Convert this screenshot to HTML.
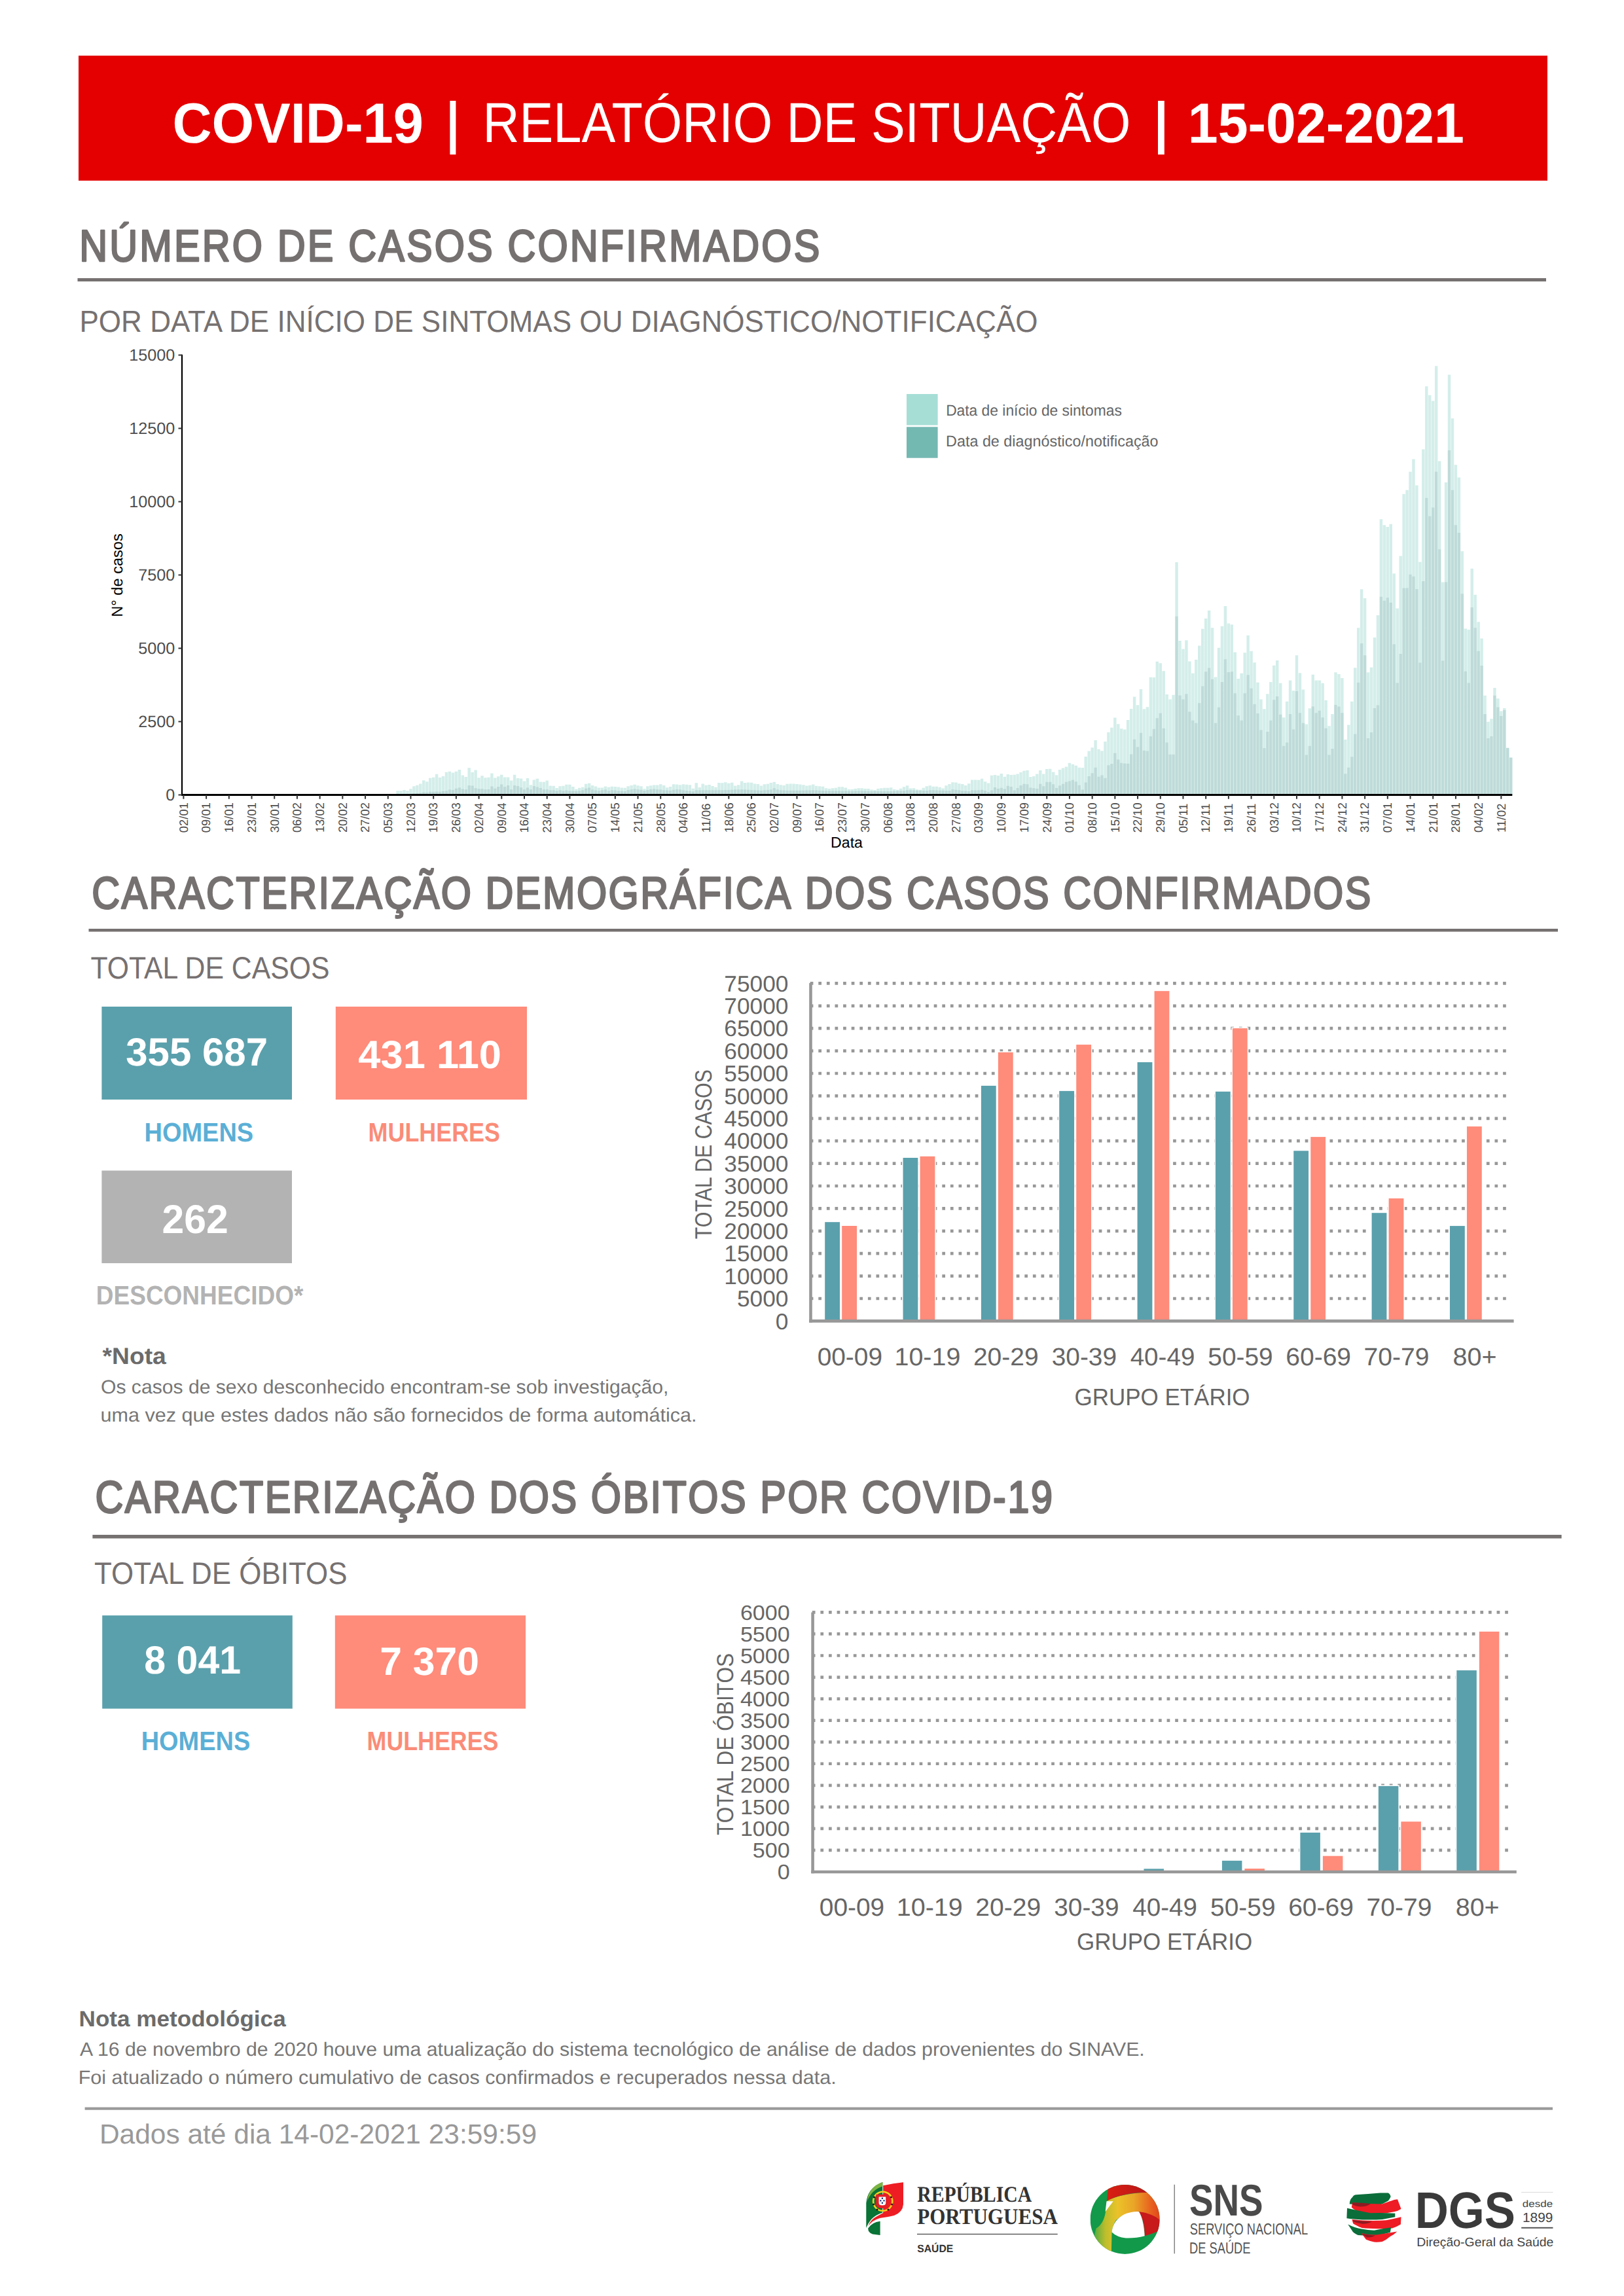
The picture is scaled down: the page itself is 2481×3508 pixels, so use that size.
<!DOCTYPE html>
<html lang="pt"><head><meta charset="utf-8"><title>COVID-19 | Relatório de Situação | 15-02-2021</title>
<style>
html,body{margin:0;padding:0;background:#fff;}
body{width:2481px;height:3508px;overflow:hidden;position:relative;font-family:"Liberation Sans",sans-serif;}
svg{position:absolute;left:0;top:0;display:block;}
</style></head>
<body>
<svg width="2481" height="3508" viewBox="0 0 2481 3508" font-family="'Liberation Sans', sans-serif" text-rendering="geometricPrecision">
<rect x="120.00" y="85.00" width="2244.00" height="191.00" fill="#E40000" />
<text x="263.59" y="217.50" font-size="86.50" font-weight="bold" fill="#fff" textLength="383.50" lengthAdjust="spacingAndGlyphs" font-family='"Liberation Sans", sans-serif' >COVID-19</text>
<rect x="687.40" y="154.00" width="9.00" height="82.10" fill="#fff" />
<text x="737.57" y="217.00" font-size="86.00" font-weight="normal" fill="#fff" textLength="989.82" lengthAdjust="spacingAndGlyphs" font-family='"Liberation Sans", sans-serif' >RELATÓRIO DE SITUAÇÃO</text>
<rect x="1769.00" y="154.00" width="9.80" height="82.10" fill="#fff" />
<text x="1814.80" y="217.50" font-size="86.50" font-weight="bold" fill="#fff" textLength="422.09" lengthAdjust="spacingAndGlyphs" font-family='"Liberation Sans", sans-serif' >15-02-2021</text>
<text transform="translate(121.29,399.00) scale(0.87,1)" x="0" y="0" font-size="68.31" font-weight="normal" fill="#767171" letter-spacing="3.591" font-family='"Liberation Sans", sans-serif' style="font-kerning:none"  stroke="#767171" stroke-width="2.67" stroke-linejoin="round">NÚMERO DE CASOS CONFIRMADOS</text>
<rect x="118.50" y="425.00" width="2243.50" height="5.00" fill="#767171" />
<text x="121.41" y="506.50" font-size="46.51" font-weight="normal" fill="#767171" textLength="1464.19" lengthAdjust="spacingAndGlyphs" font-family='"Liberation Sans", sans-serif' >POR DATA DE INÍCIO DE SINTOMAS OU DIAGNÓSTICO/NOTIFICAÇÃO</text>
<path d="M605.40 1214.50h4.46v-6.22h-4.46zM610.35 1214.50h4.46v-6.22h-4.46zM615.31 1214.50h4.46v-7.38h-4.46zM620.27 1214.50h4.46v-6.31h-4.46zM625.23 1214.50h4.46v-9.32h-4.46zM630.19 1214.50h4.46v-13.18h-4.46zM635.14 1214.50h4.46v-14.69h-4.46zM640.10 1214.50h4.46v-16.89h-4.46zM645.06 1214.50h4.46v-22.33h-4.46zM650.02 1214.50h4.46v-20.37h-4.46zM654.98 1214.50h4.46v-25.74h-4.46zM659.93 1214.50h4.46v-26.85h-4.46zM664.89 1214.50h4.46v-31.76h-4.46zM669.85 1214.50h4.46v-26.51h-4.46zM674.81 1214.50h4.46v-28.39h-4.46zM679.77 1214.50h4.46v-34.70h-4.46zM684.72 1214.50h4.46v-35.74h-4.46zM689.68 1214.50h4.46v-33.97h-4.46zM694.64 1214.50h4.46v-35.63h-4.46zM699.60 1214.50h4.46v-38.53h-4.46zM704.56 1214.50h4.46v-29.96h-4.46zM709.51 1214.50h4.46v-27.57h-4.46zM714.47 1214.50h4.46v-41.35h-4.46zM719.43 1214.50h4.46v-34.59h-4.46zM724.39 1214.50h4.46v-38.10h-4.46zM729.35 1214.50h4.46v-26.29h-4.46zM734.30 1214.50h4.46v-29.31h-4.46zM739.26 1214.50h4.46v-26.16h-4.46zM744.22 1214.50h4.46v-26.70h-4.46zM749.18 1214.50h4.46v-32.98h-4.46zM754.14 1214.50h4.46v-26.05h-4.46zM759.09 1214.50h4.46v-28.30h-4.46zM764.05 1214.50h4.46v-30.77h-4.46zM769.01 1214.50h4.46v-27.02h-4.46zM773.97 1214.50h4.46v-26.91h-4.46zM778.93 1214.50h4.46v-22.06h-4.46zM783.88 1214.50h4.46v-30.78h-4.46zM788.84 1214.50h4.46v-25.45h-4.46zM793.80 1214.50h4.46v-24.93h-4.46zM798.76 1214.50h4.46v-21.05h-4.46zM803.72 1214.50h4.46v-25.56h-4.46zM808.67 1214.50h4.46v-15.28h-4.46zM813.63 1214.50h4.46v-23.03h-4.46zM818.59 1214.50h4.46v-24.76h-4.46zM823.55 1214.50h4.46v-20.00h-4.46zM828.51 1214.50h4.46v-19.64h-4.46zM833.46 1214.50h4.46v-21.89h-4.46zM838.42 1214.50h4.46v-14.11h-4.46zM843.38 1214.50h4.46v-13.83h-4.46zM848.34 1214.50h4.46v-10.39h-4.46zM853.30 1214.50h4.46v-13.16h-4.46zM858.25 1214.50h4.46v-13.79h-4.46zM863.21 1214.50h4.46v-15.63h-4.46zM868.17 1214.50h4.46v-15.78h-4.46zM873.13 1214.50h4.46v-12.59h-4.46zM878.09 1214.50h4.46v-8.70h-4.46zM883.04 1214.50h4.46v-10.79h-4.46zM888.00 1214.50h4.46v-11.78h-4.46zM892.96 1214.50h4.46v-16.69h-4.46zM897.92 1214.50h4.46v-17.73h-4.46zM902.88 1214.50h4.46v-14.46h-4.46zM907.83 1214.50h4.46v-12.92h-4.46zM912.79 1214.50h4.46v-11.10h-4.46zM917.75 1214.50h4.46v-10.94h-4.46zM922.71 1214.50h4.46v-12.94h-4.46zM927.67 1214.50h4.46v-11.77h-4.46zM932.62 1214.50h4.46v-12.63h-4.46zM937.58 1214.50h4.46v-12.56h-4.46zM942.54 1214.50h4.46v-11.99h-4.46zM947.50 1214.50h4.46v-11.00h-4.46zM952.46 1214.50h4.46v-10.64h-4.46zM957.41 1214.50h4.46v-13.29h-4.46zM962.37 1214.50h4.46v-14.45h-4.46zM967.33 1214.50h4.46v-15.72h-4.46zM972.29 1214.50h4.46v-14.20h-4.46zM977.25 1214.50h4.46v-13.36h-4.46zM982.20 1214.50h4.46v-9.18h-4.46zM987.16 1214.50h4.46v-13.32h-4.46zM992.12 1214.50h4.46v-14.32h-4.46zM997.08 1214.50h4.46v-14.98h-4.46zM1002.04 1214.50h4.46v-15.04h-4.46zM1006.99 1214.50h4.46v-16.34h-4.46zM1011.95 1214.50h4.46v-14.52h-4.46zM1016.91 1214.50h4.46v-11.15h-4.46zM1021.87 1214.50h4.46v-12.52h-4.46zM1026.83 1214.50h4.46v-16.27h-4.46zM1031.78 1214.50h4.46v-15.92h-4.46zM1036.74 1214.50h4.46v-15.17h-4.46zM1041.70 1214.50h4.46v-16.15h-4.46zM1046.66 1214.50h4.46v-15.75h-4.46zM1051.62 1214.50h4.46v-15.17h-4.46zM1056.57 1214.50h4.46v-9.63h-4.46zM1061.53 1214.50h4.46v-18.14h-4.46zM1066.49 1214.50h4.46v-11.51h-4.46zM1071.45 1214.50h4.46v-16.90h-4.46zM1076.41 1214.50h4.46v-14.67h-4.46zM1081.36 1214.50h4.46v-15.43h-4.46zM1086.32 1214.50h4.46v-13.40h-4.46zM1091.28 1214.50h4.46v-11.84h-4.46zM1096.24 1214.50h4.46v-18.49h-4.46zM1101.20 1214.50h4.46v-18.20h-4.46zM1106.15 1214.50h4.46v-19.30h-4.46zM1111.11 1214.50h4.46v-17.79h-4.46zM1116.07 1214.50h4.46v-18.85h-4.46zM1121.03 1214.50h4.46v-14.11h-4.46zM1125.99 1214.50h4.46v-15.13h-4.46zM1130.94 1214.50h4.46v-21.07h-4.46zM1135.90 1214.50h4.46v-18.61h-4.46zM1140.86 1214.50h4.46v-19.03h-4.46zM1145.82 1214.50h4.46v-18.71h-4.46zM1150.78 1214.50h4.46v-17.06h-4.46zM1155.73 1214.50h4.46v-16.45h-4.46zM1160.69 1214.50h4.46v-14.07h-4.46zM1165.65 1214.50h4.46v-16.17h-4.46zM1170.61 1214.50h4.46v-16.86h-4.46zM1175.57 1214.50h4.46v-18.45h-4.46zM1180.52 1214.50h4.46v-19.85h-4.46zM1185.48 1214.50h4.46v-16.41h-4.46zM1190.44 1214.50h4.46v-15.33h-4.46zM1195.40 1214.50h4.46v-14.55h-4.46zM1200.36 1214.50h4.46v-16.66h-4.46zM1205.31 1214.50h4.46v-17.06h-4.46zM1210.27 1214.50h4.46v-16.96h-4.46zM1215.23 1214.50h4.46v-16.47h-4.46zM1220.19 1214.50h4.46v-15.97h-4.46zM1225.15 1214.50h4.46v-15.26h-4.46zM1230.10 1214.50h4.46v-14.11h-4.46zM1235.06 1214.50h4.46v-14.67h-4.46zM1240.02 1214.50h4.46v-15.98h-4.46zM1244.98 1214.50h4.46v-13.87h-4.46zM1249.94 1214.50h4.46v-13.24h-4.46zM1254.89 1214.50h4.46v-12.85h-4.46zM1259.85 1214.50h4.46v-10.27h-4.46zM1264.81 1214.50h4.46v-9.45h-4.46zM1269.77 1214.50h4.46v-10.17h-4.46zM1274.73 1214.50h4.46v-10.72h-4.46zM1279.68 1214.50h4.46v-12.14h-4.46zM1284.64 1214.50h4.46v-12.14h-4.46zM1289.60 1214.50h4.46v-11.09h-4.46zM1294.56 1214.50h4.46v-8.54h-4.46zM1299.52 1214.50h4.46v-8.50h-4.46zM1304.47 1214.50h4.46v-9.50h-4.46zM1309.43 1214.50h4.46v-10.33h-4.46zM1314.39 1214.50h4.46v-10.16h-4.46zM1319.35 1214.50h4.46v-9.52h-4.46zM1324.31 1214.50h4.46v-9.48h-4.46zM1329.26 1214.50h4.46v-7.92h-4.46zM1334.22 1214.50h4.46v-7.33h-4.46zM1339.18 1214.50h4.46v-9.61h-4.46zM1344.14 1214.50h4.46v-10.27h-4.46zM1349.10 1214.50h4.46v-10.77h-4.46zM1354.05 1214.50h4.46v-10.81h-4.46zM1359.01 1214.50h4.46v-11.27h-4.46zM1363.97 1214.50h4.46v-8.49h-4.46zM1368.93 1214.50h4.46v-7.87h-4.46zM1373.89 1214.50h4.46v-9.75h-4.46zM1378.84 1214.50h4.46v-12.21h-4.46zM1383.80 1214.50h4.46v-14.20h-4.46zM1388.76 1214.50h4.46v-9.90h-4.46zM1393.72 1214.50h4.46v-10.31h-4.46zM1398.68 1214.50h4.46v-8.35h-4.46zM1403.63 1214.50h4.46v-7.85h-4.46zM1408.59 1214.50h4.46v-10.82h-4.46zM1413.55 1214.50h4.46v-13.28h-4.46zM1418.51 1214.50h4.46v-14.22h-4.46zM1423.47 1214.50h4.46v-12.78h-4.46zM1428.42 1214.50h4.46v-12.74h-4.46zM1433.38 1214.50h4.46v-11.71h-4.46zM1438.34 1214.50h4.46v-10.02h-4.46zM1443.30 1214.50h4.46v-14.36h-4.46zM1448.26 1214.50h4.46v-16.40h-4.46zM1453.21 1214.50h4.46v-19.18h-4.46zM1458.17 1214.50h4.46v-19.04h-4.46zM1463.13 1214.50h4.46v-17.17h-4.46zM1468.09 1214.50h4.46v-16.51h-4.46zM1473.05 1214.50h4.46v-14.52h-4.46zM1478.00 1214.50h4.46v-17.22h-4.46zM1482.96 1214.50h4.46v-23.02h-4.46zM1487.92 1214.50h4.46v-22.91h-4.46zM1492.88 1214.50h4.46v-22.68h-4.46zM1497.84 1214.50h4.46v-24.75h-4.46zM1502.79 1214.50h4.46v-20.37h-4.46zM1507.75 1214.50h4.46v-17.88h-4.46zM1512.71 1214.50h4.46v-29.67h-4.46zM1517.67 1214.50h4.46v-30.41h-4.46zM1522.63 1214.50h4.46v-29.41h-4.46zM1527.58 1214.50h4.46v-32.45h-4.46zM1532.54 1214.50h4.46v-27.64h-4.46zM1537.50 1214.50h4.46v-31.42h-4.46zM1542.46 1214.50h4.46v-30.56h-4.46zM1547.42 1214.50h4.46v-30.70h-4.46zM1552.37 1214.50h4.46v-31.90h-4.46zM1557.33 1214.50h4.46v-34.38h-4.46zM1562.29 1214.50h4.46v-36.86h-4.46zM1567.25 1214.50h4.46v-37.44h-4.46zM1572.21 1214.50h4.46v-27.41h-4.46zM1577.16 1214.50h4.46v-28.56h-4.46zM1582.12 1214.50h4.46v-31.98h-4.46zM1587.08 1214.50h4.46v-37.40h-4.46zM1592.04 1214.50h4.46v-32.05h-4.46zM1597.00 1214.50h4.46v-39.43h-4.46zM1601.95 1214.50h4.46v-39.87h-4.46zM1606.91 1214.50h4.46v-34.91h-4.46zM1611.87 1214.50h4.46v-30.26h-4.46zM1616.83 1214.50h4.46v-38.51h-4.46zM1621.79 1214.50h4.46v-40.96h-4.46zM1626.74 1214.50h4.46v-42.93h-4.46zM1631.70 1214.50h4.46v-48.83h-4.46zM1636.66 1214.50h4.46v-46.63h-4.46zM1641.62 1214.50h4.46v-44.69h-4.46zM1646.58 1214.50h4.46v-41.63h-4.46zM1651.53 1214.50h4.46v-41.57h-4.46zM1656.49 1214.50h4.46v-58.60h-4.46zM1661.45 1214.50h4.46v-67.10h-4.46zM1666.41 1214.50h4.46v-72.29h-4.46zM1671.37 1214.50h4.46v-83.53h-4.46zM1676.32 1214.50h4.46v-69.71h-4.46zM1681.28 1214.50h4.46v-67.24h-4.46zM1686.24 1214.50h4.46v-81.62h-4.46zM1691.20 1214.50h4.46v-95.86h-4.46zM1696.16 1214.50h4.46v-102.86h-4.46zM1701.11 1214.50h4.46v-118.05h-4.46zM1706.07 1214.50h4.46v-108.26h-4.46zM1711.03 1214.50h4.46v-101.16h-4.46zM1715.99 1214.50h4.46v-100.08h-4.46zM1720.95 1214.50h4.46v-114.59h-4.46zM1725.90 1214.50h4.46v-131.55h-4.46zM1730.86 1214.50h4.46v-149.99h-4.46zM1735.82 1214.50h4.46v-137.37h-4.46zM1740.78 1214.50h4.46v-161.58h-4.46zM1745.74 1214.50h4.46v-131.17h-4.46zM1750.69 1214.50h4.46v-134.29h-4.46zM1755.65 1214.50h4.46v-179.71h-4.46zM1760.61 1214.50h4.46v-179.51h-4.46zM1765.57 1214.50h4.46v-203.74h-4.46zM1770.53 1214.50h4.46v-201.16h-4.46zM1775.48 1214.50h4.46v-189.19h-4.46zM1780.44 1214.50h4.46v-153.55h-4.46zM1785.40 1214.50h4.46v-146.10h-4.46zM1790.36 1214.50h4.46v-152.72h-4.46zM1795.32 1214.50h4.46v-355.47h-4.46zM1800.27 1214.50h4.46v-235.47h-4.46zM1805.23 1214.50h4.46v-223.06h-4.46zM1810.19 1214.50h4.46v-236.30h-4.46zM1815.15 1214.50h4.46v-204.03h-4.46zM1820.11 1214.50h4.46v-185.82h-4.46zM1825.06 1214.50h4.46v-206.51h-4.46zM1830.02 1214.50h4.46v-228.03h-4.46zM1834.98 1214.50h4.46v-253.68h-4.46zM1839.94 1214.50h4.46v-269.40h-4.46zM1844.90 1214.50h4.46v-281.82h-4.46zM1849.85 1214.50h4.46v-255.33h-4.46zM1854.81 1214.50h4.46v-180.03h-4.46zM1859.77 1214.50h4.46v-224.72h-4.46zM1864.73 1214.50h4.46v-257.82h-4.46zM1869.69 1214.50h4.46v-288.44h-4.46zM1874.64 1214.50h4.46v-261.95h-4.46zM1879.60 1214.50h4.46v-260.30h-4.46zM1884.56 1214.50h4.46v-218.09h-4.46zM1889.52 1214.50h4.46v-177.55h-4.46zM1894.48 1214.50h4.46v-185.82h-4.46zM1899.43 1214.50h4.46v-217.27h-4.46zM1904.39 1214.50h4.46v-243.75h-4.46zM1909.35 1214.50h4.46v-219.75h-4.46zM1914.31 1214.50h4.46v-202.37h-4.46zM1919.27 1214.50h4.46v-171.75h-4.46zM1924.22 1214.50h4.46v-146.10h-4.46zM1929.18 1214.50h4.46v-131.20h-4.46zM1934.14 1214.50h4.46v-154.37h-4.46zM1939.10 1214.50h4.46v-172.58h-4.46zM1944.06 1214.50h4.46v-197.64h-4.46zM1949.01 1214.50h4.46v-205.48h-4.46zM1953.97 1214.50h4.46v-170.63h-4.46zM1958.93 1214.50h4.46v-118.37h-4.46zM1963.89 1214.50h4.46v-142.76h-4.46zM1968.85 1214.50h4.46v-174.99h-4.46zM1973.80 1214.50h4.46v-159.31h-4.46zM1978.76 1214.50h4.46v-213.32h-4.46zM1983.72 1214.50h4.46v-186.31h-4.46zM1988.68 1214.50h4.46v-161.05h-4.46zM1993.64 1214.50h4.46v-107.91h-4.46zM1998.59 1214.50h4.46v-132.30h-4.46zM2003.55 1214.50h4.46v-183.70h-4.46zM2008.51 1214.50h4.46v-174.99h-4.46zM2013.47 1214.50h4.46v-174.99h-4.46zM2018.43 1214.50h4.46v-170.63h-4.46zM2023.38 1214.50h4.46v-144.50h-4.46zM2028.34 1214.50h4.46v-105.30h-4.46zM2033.30 1214.50h4.46v-123.59h-4.46zM2038.26 1214.50h4.46v-187.18h-4.46zM2043.22 1214.50h4.46v-184.57h-4.46zM2048.17 1214.50h4.46v-178.47h-4.46zM2053.13 1214.50h4.46v-84.40h-4.46zM2058.09 1214.50h4.46v-107.04h-4.46zM2063.05 1214.50h4.46v-142.76h-4.46zM2068.01 1214.50h4.46v-194.15h-4.46zM2072.96 1214.50h4.46v-255.13h-4.46zM2077.92 1214.50h4.46v-314.36h-4.46zM2082.88 1214.50h4.46v-300.42h-4.46zM2087.84 1214.50h4.46v-187.24h-4.46zM2092.80 1214.50h4.46v-194.64h-4.46zM2097.75 1214.50h4.46v-240.55h-4.46zM2102.71 1214.50h4.46v-274.62h-4.46zM2107.67 1214.50h4.46v-421.24h-4.46zM2112.63 1214.50h4.46v-412.36h-4.46zM2117.59 1214.50h4.46v-409.39h-4.46zM2122.54 1214.50h4.46v-413.84h-4.46zM2127.50 1214.50h4.46v-338.30h-4.46zM2132.46 1214.50h4.46v-284.99h-4.46zM2137.42 1214.50h4.46v-364.96h-4.46zM2142.38 1214.50h4.46v-459.75h-4.46zM2147.33 1214.50h4.46v-465.67h-4.46zM2152.29 1214.50h4.46v-493.81h-4.46zM2157.25 1214.50h4.46v-513.07h-4.46zM2162.21 1214.50h4.46v-473.08h-4.46zM2167.17 1214.50h4.46v-356.08h-4.46zM2172.12 1214.50h4.46v-527.88h-4.46zM2177.08 1214.50h4.46v-624.14h-4.46zM2182.04 1214.50h4.46v-610.82h-4.46zM2187.00 1214.50h4.46v-601.93h-4.46zM2191.96 1214.50h4.46v-655.25h-4.46zM2196.91 1214.50h4.46v-510.10h-4.46zM2201.87 1214.50h4.46v-324.97h-4.46zM2206.83 1214.50h4.46v-477.52h-4.46zM2211.79 1214.50h4.46v-641.92h-4.46zM2216.75 1214.50h4.46v-575.27h-4.46zM2221.70 1214.50h4.46v-504.18h-4.46zM2226.66 1214.50h4.46v-484.93h-4.46zM2231.62 1214.50h4.46v-372.37h-4.46zM2236.58 1214.50h4.46v-253.88h-4.46zM2241.54 1214.50h4.46v-252.40h-4.46zM2246.49 1214.50h4.46v-345.71h-4.46zM2251.45 1214.50h4.46v-305.72h-4.46zM2256.41 1214.50h4.46v-264.25h-4.46zM2261.37 1214.50h4.46v-239.07h-4.46zM2266.33 1214.50h4.46v-151.69h-4.46zM2271.28 1214.50h4.46v-111.70h-4.46zM2276.24 1214.50h4.46v-116.15h-4.46zM2281.20 1214.50h4.46v-163.54h-4.46zM2286.16 1214.50h4.46v-147.25h-4.46zM2291.12 1214.50h4.46v-128.00h-4.46zM2296.07 1214.50h4.46v-132.44h-4.46zM2301.03 1214.50h4.46v-71.72h-4.46zM2305.99 1214.50h4.46v-56.91h-4.46z" fill="rgba(159,217,209,0.45)"/>
<path d="M605.40 1214.50h4.46v-1.12h-4.46zM610.35 1214.50h4.46v-1.12h-4.46zM615.31 1214.50h4.46v-1.33h-4.46zM620.27 1214.50h4.46v-1.14h-4.46zM625.23 1214.50h4.46v-1.68h-4.46zM630.19 1214.50h4.46v-2.37h-4.46zM635.14 1214.50h4.46v-2.64h-4.46zM640.10 1214.50h4.46v-3.04h-4.46zM645.06 1214.50h4.46v-4.02h-4.46zM650.02 1214.50h4.46v-3.67h-4.46zM654.98 1214.50h4.46v-4.63h-4.46zM659.93 1214.50h4.46v-4.83h-4.46zM664.89 1214.50h4.46v-5.06h-4.46zM669.85 1214.50h4.46v-4.77h-4.46zM674.81 1214.50h4.46v-5.68h-4.46zM679.77 1214.50h4.46v-6.18h-4.46zM684.72 1214.50h4.46v-8.08h-4.46zM689.68 1214.50h4.46v-7.50h-4.46zM694.64 1214.50h4.46v-9.86h-4.46zM699.60 1214.50h4.46v-10.89h-4.46zM704.56 1214.50h4.46v-8.91h-4.46zM709.51 1214.50h4.46v-8.18h-4.46zM714.47 1214.50h4.46v-14.57h-4.46zM719.43 1214.50h4.46v-13.90h-4.46zM724.39 1214.50h4.46v-10.29h-4.46zM729.35 1214.50h4.46v-9.21h-4.46zM734.30 1214.50h4.46v-9.15h-4.46zM739.26 1214.50h4.46v-8.19h-4.46zM744.22 1214.50h4.46v-8.39h-4.46zM749.18 1214.50h4.46v-12.96h-4.46zM754.14 1214.50h4.46v-9.81h-4.46zM759.09 1214.50h4.46v-12.52h-4.46zM764.05 1214.50h4.46v-15.96h-4.46zM769.01 1214.50h4.46v-12.25h-4.46zM773.97 1214.50h4.46v-14.55h-4.46zM778.93 1214.50h4.46v-8.29h-4.46zM783.88 1214.50h4.46v-14.54h-4.46zM788.84 1214.50h4.46v-13.62h-4.46zM793.80 1214.50h4.46v-11.14h-4.46zM798.76 1214.50h4.46v-8.22h-4.46zM803.72 1214.50h4.46v-10.93h-4.46zM808.67 1214.50h4.46v-8.32h-4.46zM813.63 1214.50h4.46v-13.57h-4.46zM818.59 1214.50h4.46v-12.08h-4.46zM823.55 1214.50h4.46v-10.55h-4.46zM828.51 1214.50h4.46v-8.19h-4.46zM833.46 1214.50h4.46v-8.19h-4.46zM838.42 1214.50h4.46v-7.21h-4.46zM843.38 1214.50h4.46v-7.14h-4.46zM848.34 1214.50h4.46v-6.30h-4.46zM853.30 1214.50h4.46v-7.13h-4.46zM858.25 1214.50h4.46v-6.31h-4.46zM863.21 1214.50h4.46v-7.12h-4.46zM868.17 1214.50h4.46v-6.22h-4.46zM873.13 1214.50h4.46v-6.12h-4.46zM878.09 1214.50h4.46v-5.74h-4.46zM883.04 1214.50h4.46v-6.22h-4.46zM888.00 1214.50h4.46v-7.13h-4.46zM892.96 1214.50h4.46v-9.80h-4.46zM897.92 1214.50h4.46v-10.88h-4.46zM902.88 1214.50h4.46v-8.10h-4.46zM907.83 1214.50h4.46v-7.11h-4.46zM912.79 1214.50h4.46v-6.33h-4.46zM917.75 1214.50h4.46v-7.32h-4.46zM922.71 1214.50h4.46v-7.95h-4.46zM927.67 1214.50h4.46v-6.35h-4.46zM932.62 1214.50h4.46v-7.21h-4.46zM937.58 1214.50h4.46v-7.07h-4.46zM942.54 1214.50h4.46v-6.22h-4.46zM947.50 1214.50h4.46v-6.07h-4.46zM952.46 1214.50h4.46v-5.56h-4.46zM957.41 1214.50h4.46v-7.38h-4.46zM962.37 1214.50h4.46v-8.37h-4.46zM967.33 1214.50h4.46v-9.00h-4.46zM972.29 1214.50h4.46v-8.19h-4.46zM977.25 1214.50h4.46v-7.81h-4.46zM982.20 1214.50h4.46v-6.42h-4.46zM987.16 1214.50h4.46v-7.41h-4.46zM992.12 1214.50h4.46v-8.40h-4.46zM997.08 1214.50h4.46v-8.96h-4.46zM1002.04 1214.50h4.46v-8.19h-4.46zM1006.99 1214.50h4.46v-7.97h-4.46zM1011.95 1214.50h4.46v-7.21h-4.46zM1016.91 1214.50h4.46v-6.97h-4.46zM1021.87 1214.50h4.46v-6.72h-4.46zM1026.83 1214.50h4.46v-7.74h-4.46zM1031.78 1214.50h4.46v-8.19h-4.46zM1036.74 1214.50h4.46v-8.01h-4.46zM1041.70 1214.50h4.46v-7.31h-4.46zM1046.66 1214.50h4.46v-6.61h-4.46zM1051.62 1214.50h4.46v-5.91h-4.46zM1056.57 1214.50h4.46v-5.33h-4.46zM1061.53 1214.50h4.46v-7.21h-4.46zM1066.49 1214.50h4.46v-7.21h-4.46zM1071.45 1214.50h4.46v-7.21h-4.46zM1076.41 1214.50h4.46v-7.21h-4.46zM1081.36 1214.50h4.46v-7.21h-4.46zM1086.32 1214.50h4.46v-7.21h-4.46zM1091.28 1214.50h4.46v-7.21h-4.46zM1096.24 1214.50h4.46v-7.22h-4.46zM1101.20 1214.50h4.46v-7.35h-4.46zM1106.15 1214.50h4.46v-7.47h-4.46zM1111.11 1214.50h4.46v-7.59h-4.46zM1116.07 1214.50h4.46v-7.72h-4.46zM1121.03 1214.50h4.46v-7.89h-4.46zM1125.99 1214.50h4.46v-8.05h-4.46zM1130.94 1214.50h4.46v-8.16h-4.46zM1135.90 1214.50h4.46v-7.91h-4.46zM1140.86 1214.50h4.46v-7.66h-4.46zM1145.82 1214.50h4.46v-7.42h-4.46zM1150.78 1214.50h4.46v-7.17h-4.46zM1155.73 1214.50h4.46v-6.92h-4.46zM1160.69 1214.50h4.46v-6.78h-4.46zM1165.65 1214.50h4.46v-7.15h-4.46zM1170.61 1214.50h4.46v-7.52h-4.46zM1175.57 1214.50h4.46v-7.89h-4.46zM1180.52 1214.50h4.46v-10.14h-4.46zM1185.48 1214.50h4.46v-7.99h-4.46zM1190.44 1214.50h4.46v-7.18h-4.46zM1195.40 1214.50h4.46v-7.02h-4.46zM1200.36 1214.50h4.46v-6.85h-4.46zM1205.31 1214.50h4.46v-6.72h-4.46zM1210.27 1214.50h4.46v-6.72h-4.46zM1215.23 1214.50h4.46v-6.72h-4.46zM1220.19 1214.50h4.46v-6.74h-4.46zM1225.15 1214.50h4.46v-6.87h-4.46zM1230.10 1214.50h4.46v-6.99h-4.46zM1235.06 1214.50h4.46v-7.11h-4.46zM1240.02 1214.50h4.46v-7.15h-4.46zM1244.98 1214.50h4.46v-6.90h-4.46zM1249.94 1214.50h4.46v-6.66h-4.46zM1254.89 1214.50h4.46v-6.41h-4.46zM1259.85 1214.50h4.46v-6.22h-4.46zM1264.81 1214.50h4.46v-6.22h-4.46zM1269.77 1214.50h4.46v-6.22h-4.46zM1274.73 1214.50h4.46v-6.22h-4.46zM1279.68 1214.50h4.46v-6.19h-4.46zM1284.64 1214.50h4.46v-6.06h-4.46zM1289.60 1214.50h4.46v-5.94h-4.46zM1294.56 1214.50h4.46v-5.82h-4.46zM1299.52 1214.50h4.46v-5.77h-4.46zM1304.47 1214.50h4.46v-5.89h-4.46zM1309.43 1214.50h4.46v-6.02h-4.46zM1314.39 1214.50h4.46v-6.14h-4.46zM1319.35 1214.50h4.46v-6.11h-4.46zM1324.31 1214.50h4.46v-5.76h-4.46zM1329.26 1214.50h4.46v-5.42h-4.46zM1334.22 1214.50h4.46v-5.95h-4.46zM1339.18 1214.50h4.46v-5.49h-4.46zM1344.14 1214.50h4.46v-5.39h-4.46zM1349.10 1214.50h4.46v-5.39h-4.46zM1354.05 1214.50h4.46v-5.39h-4.46zM1359.01 1214.50h4.46v-5.57h-4.46zM1363.97 1214.50h4.46v-5.77h-4.46zM1368.93 1214.50h4.46v-5.97h-4.46zM1373.89 1214.50h4.46v-6.17h-4.46zM1378.84 1214.50h4.46v-6.37h-4.46zM1383.80 1214.50h4.46v-7.33h-4.46zM1388.76 1214.50h4.46v-7.20h-4.46zM1393.72 1214.50h4.46v-7.03h-4.46zM1398.68 1214.50h4.46v-6.87h-4.46zM1403.63 1214.50h4.46v-6.70h-4.46zM1408.59 1214.50h4.46v-6.53h-4.46zM1413.55 1214.50h4.46v-6.39h-4.46zM1418.51 1214.50h4.46v-7.35h-4.46zM1423.47 1214.50h4.46v-7.19h-4.46zM1428.42 1214.50h4.46v-7.02h-4.46zM1433.38 1214.50h4.46v-6.86h-4.46zM1438.34 1214.50h4.46v-6.69h-4.46zM1443.30 1214.50h4.46v-6.53h-4.46zM1448.26 1214.50h4.46v-6.49h-4.46zM1453.21 1214.50h4.46v-8.31h-4.46zM1458.17 1214.50h4.46v-7.81h-4.46zM1463.13 1214.50h4.46v-7.28h-4.46zM1468.09 1214.50h4.46v-6.34h-4.46zM1473.05 1214.50h4.46v-5.95h-4.46zM1478.00 1214.50h4.46v-5.57h-4.46zM1482.96 1214.50h4.46v-7.14h-4.46zM1487.92 1214.50h4.46v-6.89h-4.46zM1492.88 1214.50h4.46v-7.24h-4.46zM1497.84 1214.50h4.46v-7.82h-4.46zM1502.79 1214.50h4.46v-6.60h-4.46zM1507.75 1214.50h4.46v-4.62h-4.46zM1512.71 1214.50h4.46v-6.93h-4.46zM1517.67 1214.50h4.46v-11.59h-4.46zM1522.63 1214.50h4.46v-9.52h-4.46zM1527.58 1214.50h4.46v-10.82h-4.46zM1532.54 1214.50h4.46v-9.04h-4.46zM1537.50 1214.50h4.46v-13.75h-4.46zM1542.46 1214.50h4.46v-12.41h-4.46zM1547.42 1214.50h4.46v-6.90h-4.46zM1552.37 1214.50h4.46v-10.51h-4.46zM1557.33 1214.50h4.46v-14.61h-4.46zM1562.29 1214.50h4.46v-16.68h-4.46zM1567.25 1214.50h4.46v-16.29h-4.46zM1572.21 1214.50h4.46v-11.01h-4.46zM1577.16 1214.50h4.46v-10.37h-4.46zM1582.12 1214.50h4.46v-9.39h-4.46zM1587.08 1214.50h4.46v-16.69h-4.46zM1592.04 1214.50h4.46v-13.33h-4.46zM1597.00 1214.50h4.46v-19.72h-4.46zM1601.95 1214.50h4.46v-19.69h-4.46zM1606.91 1214.50h4.46v-16.18h-4.46zM1611.87 1214.50h4.46v-10.45h-4.46zM1616.83 1214.50h4.46v-14.37h-4.46zM1621.79 1214.50h4.46v-16.87h-4.46zM1626.74 1214.50h4.46v-19.71h-4.46zM1631.70 1214.50h4.46v-21.05h-4.46zM1636.66 1214.50h4.46v-22.67h-4.46zM1641.62 1214.50h4.46v-20.32h-4.46zM1646.58 1214.50h4.46v-14.85h-4.46zM1651.53 1214.50h4.46v-8.06h-4.46zM1656.49 1214.50h4.46v-19.02h-4.46zM1661.45 1214.50h4.46v-28.51h-4.46zM1666.41 1214.50h4.46v-33.31h-4.46zM1671.37 1214.50h4.46v-41.65h-4.46zM1676.32 1214.50h4.46v-27.64h-4.46zM1681.28 1214.50h4.46v-29.90h-4.46zM1686.24 1214.50h4.46v-25.78h-4.46zM1691.20 1214.50h4.46v-45.24h-4.46zM1696.16 1214.50h4.46v-47.39h-4.46zM1701.11 1214.50h4.46v-63.78h-4.46zM1706.07 1214.50h4.46v-54.09h-4.46zM1711.03 1214.50h4.46v-48.85h-4.46zM1715.99 1214.50h4.46v-48.12h-4.46zM1720.95 1214.50h4.46v-47.75h-4.46zM1725.90 1214.50h4.46v-61.94h-4.46zM1730.86 1214.50h4.46v-84.75h-4.46zM1735.82 1214.50h4.46v-73.27h-4.46zM1740.78 1214.50h4.46v-94.66h-4.46zM1745.74 1214.50h4.46v-67.65h-4.46zM1750.69 1214.50h4.46v-67.09h-4.46zM1755.65 1214.50h4.46v-89.47h-4.46zM1760.61 1214.50h4.46v-100.64h-4.46zM1765.57 1214.50h4.46v-117.17h-4.46zM1770.53 1214.50h4.46v-124.76h-4.46zM1775.48 1214.50h4.46v-101.85h-4.46zM1780.44 1214.50h4.46v-79.90h-4.46zM1785.40 1214.50h4.46v-61.69h-4.46zM1790.36 1214.50h4.46v-61.69h-4.46zM1795.32 1214.50h4.46v-272.71h-4.46zM1800.27 1214.50h4.46v-151.89h-4.46zM1805.23 1214.50h4.46v-146.10h-4.46zM1810.19 1214.50h4.46v-154.37h-4.46zM1815.15 1214.50h4.46v-127.07h-4.46zM1820.11 1214.50h4.46v-113.82h-4.46zM1825.06 1214.50h4.46v-109.69h-4.46zM1830.02 1214.50h4.46v-140.31h-4.46zM1834.98 1214.50h4.46v-165.96h-4.46zM1839.94 1214.50h4.46v-188.30h-4.46zM1844.90 1214.50h4.46v-194.10h-4.46zM1849.85 1214.50h4.46v-176.72h-4.46zM1854.81 1214.50h4.46v-109.69h-4.46zM1859.77 1214.50h4.46v-133.69h-4.46zM1864.73 1214.50h4.46v-172.58h-4.46zM1869.69 1214.50h4.46v-207.34h-4.46zM1874.64 1214.50h4.46v-187.48h-4.46zM1879.60 1214.50h4.46v-188.30h-4.46zM1884.56 1214.50h4.46v-155.20h-4.46zM1889.52 1214.50h4.46v-121.27h-4.46zM1894.48 1214.50h4.46v-113.82h-4.46zM1899.43 1214.50h4.46v-155.20h-4.46zM1904.39 1214.50h4.46v-183.34h-4.46zM1909.35 1214.50h4.46v-162.65h-4.46zM1914.31 1214.50h4.46v-138.65h-4.46zM1919.27 1214.50h4.46v-124.58h-4.46zM1924.22 1214.50h4.46v-98.93h-4.46zM1929.18 1214.50h4.46v-71.62h-4.46zM1934.14 1214.50h4.46v-96.45h-4.46zM1939.10 1214.50h4.46v-113.82h-4.46zM1944.06 1214.50h4.46v-145.37h-4.46zM1949.01 1214.50h4.46v-150.60h-4.46zM1953.97 1214.50h4.46v-122.72h-4.46zM1958.93 1214.50h4.46v-74.81h-4.46zM1963.89 1214.50h4.46v-80.04h-4.46zM1968.85 1214.50h4.46v-123.59h-4.46zM1973.80 1214.50h4.46v-100.07h-4.46zM1978.76 1214.50h4.46v-158.44h-4.46zM1983.72 1214.50h4.46v-125.34h-4.46zM1988.68 1214.50h4.46v-109.66h-4.46zM1993.64 1214.50h4.46v-60.88h-4.46zM1998.59 1214.50h4.46v-74.81h-4.46zM2003.55 1214.50h4.46v-134.92h-4.46zM2008.51 1214.50h4.46v-125.34h-4.46zM2013.47 1214.50h4.46v-128.82h-4.46zM2018.43 1214.50h4.46v-118.37h-4.46zM2023.38 1214.50h4.46v-101.82h-4.46zM2028.34 1214.50h4.46v-60.88h-4.46zM2033.30 1214.50h4.46v-70.46h-4.46zM2038.26 1214.50h4.46v-137.53h-4.46zM2043.22 1214.50h4.46v-134.92h-4.46zM2048.17 1214.50h4.46v-125.34h-4.46zM2053.13 1214.50h4.46v-32.13h-4.46zM2058.09 1214.50h4.46v-41.71h-4.46zM2063.05 1214.50h4.46v-58.26h-4.46zM2068.01 1214.50h4.46v-93.11h-4.46zM2072.96 1214.50h4.46v-171.50h-4.46zM2077.92 1214.50h4.46v-231.61h-4.46zM2082.88 1214.50h4.46v-213.32h-4.46zM2087.84 1214.50h4.46v-86.53h-4.46zM2092.80 1214.50h4.46v-95.41h-4.46zM2097.75 1214.50h4.46v-132.44h-4.46zM2102.71 1214.50h4.46v-136.88h-4.46zM2107.67 1214.50h4.46v-302.76h-4.46zM2112.63 1214.50h4.46v-296.83h-4.46zM2117.59 1214.50h4.46v-301.28h-4.46zM2122.54 1214.50h4.46v-293.87h-4.46zM2127.50 1214.50h4.46v-230.19h-4.46zM2132.46 1214.50h4.46v-170.95h-4.46zM2137.42 1214.50h4.46v-215.38h-4.46zM2142.38 1214.50h4.46v-316.09h-4.46zM2147.33 1214.50h4.46v-316.09h-4.46zM2152.29 1214.50h4.46v-336.82h-4.46zM2157.25 1214.50h4.46v-333.86h-4.46zM2162.21 1214.50h4.46v-314.61h-4.46zM2167.17 1214.50h4.46v-202.05h-4.46zM2172.12 1214.50h4.46v-326.45h-4.46zM2177.08 1214.50h4.46v-453.82h-4.46zM2182.04 1214.50h4.46v-425.68h-4.46zM2187.00 1214.50h4.46v-439.01h-4.46zM2191.96 1214.50h4.46v-493.81h-4.46zM2196.91 1214.50h4.46v-375.33h-4.46zM2201.87 1214.50h4.46v-205.01h-4.46zM2206.83 1214.50h4.46v-324.97h-4.46zM2211.79 1214.50h4.46v-526.40h-4.46zM2216.75 1214.50h4.46v-465.67h-4.46zM2221.70 1214.50h4.46v-412.36h-4.46zM2226.66 1214.50h4.46v-400.51h-4.46zM2231.62 1214.50h4.46v-307.20h-4.46zM2236.58 1214.50h4.46v-188.72h-4.46zM2241.54 1214.50h4.46v-170.95h-4.46zM2246.49 1214.50h4.46v-286.47h-4.46zM2251.45 1214.50h4.46v-255.36h-4.46zM2256.41 1214.50h4.46v-219.82h-4.46zM2261.37 1214.50h4.46v-197.60h-4.46zM2266.33 1214.50h4.46v-123.55h-4.46zM2271.28 1214.50h4.46v-86.53h-4.46zM2276.24 1214.50h4.46v-89.49h-4.46zM2281.20 1214.50h4.46v-151.69h-4.46zM2286.16 1214.50h4.46v-133.92h-4.46zM2291.12 1214.50h4.46v-120.59h-4.46zM2296.07 1214.50h4.46v-129.48h-4.46zM2301.03 1214.50h4.46v-71.72h-4.46zM2305.99 1214.50h4.46v-56.91h-4.46z" fill="rgba(128,168,171,0.26)"/>
<line x1="278" y1="541.8" x2="278" y2="1215.60" stroke="#000" stroke-width="2.2"/>
<line x1="277" y1="1214.50" x2="2310.3" y2="1214.50" stroke="#000" stroke-width="2.8"/>
<line x1="272.5" y1="1214.50" x2="278" y2="1214.50" stroke="#333" stroke-width="2"/>
<text x="253.37" y="1223.30" font-size="25.20" font-weight="normal" fill="#4D4D4D" >0</text>
<line x1="272.5" y1="1102.50" x2="278" y2="1102.50" stroke="#333" stroke-width="2"/>
<text x="211.32" y="1111.30" font-size="25.20" font-weight="normal" fill="#4D4D4D" >2500</text>
<line x1="272.5" y1="990.50" x2="278" y2="990.50" stroke="#333" stroke-width="2"/>
<text x="211.32" y="999.30" font-size="25.20" font-weight="normal" fill="#4D4D4D" >5000</text>
<line x1="272.5" y1="878.50" x2="278" y2="878.50" stroke="#333" stroke-width="2"/>
<text x="211.32" y="887.30" font-size="25.20" font-weight="normal" fill="#4D4D4D" >7500</text>
<line x1="272.5" y1="766.50" x2="278" y2="766.50" stroke="#333" stroke-width="2"/>
<text x="197.31" y="775.30" font-size="25.20" font-weight="normal" fill="#4D4D4D" >10000</text>
<line x1="272.5" y1="654.50" x2="278" y2="654.50" stroke="#333" stroke-width="2"/>
<text x="197.31" y="663.30" font-size="25.20" font-weight="normal" fill="#4D4D4D" >12500</text>
<line x1="272.5" y1="542.50" x2="278" y2="542.50" stroke="#333" stroke-width="2"/>
<text x="197.31" y="551.30" font-size="25.20" font-weight="normal" fill="#4D4D4D" >15000</text>
<line x1="280.40" y1="1214.50" x2="280.40" y2="1220.70" stroke="#333" stroke-width="2"/>
<text transform="translate(286.69,1227.00) rotate(-90)" x="-45.15" y="0" font-size="18.4" fill="#4D4D4D">02/01</text>
<line x1="315.11" y1="1214.50" x2="315.11" y2="1220.70" stroke="#333" stroke-width="2"/>
<text transform="translate(321.39,1227.00) rotate(-90)" x="-45.15" y="0" font-size="18.4" fill="#4D4D4D">09/01</text>
<line x1="349.81" y1="1214.50" x2="349.81" y2="1220.70" stroke="#333" stroke-width="2"/>
<text transform="translate(356.10,1227.00) rotate(-90)" x="-45.15" y="0" font-size="18.4" fill="#4D4D4D">16/01</text>
<line x1="384.52" y1="1214.50" x2="384.52" y2="1220.70" stroke="#333" stroke-width="2"/>
<text transform="translate(390.81,1227.00) rotate(-90)" x="-45.15" y="0" font-size="18.4" fill="#4D4D4D">23/01</text>
<line x1="419.22" y1="1214.50" x2="419.22" y2="1220.70" stroke="#333" stroke-width="2"/>
<text transform="translate(425.51,1227.00) rotate(-90)" x="-45.15" y="0" font-size="18.4" fill="#4D4D4D">30/01</text>
<line x1="453.93" y1="1214.50" x2="453.93" y2="1220.70" stroke="#333" stroke-width="2"/>
<text transform="translate(460.22,1227.00) rotate(-90)" x="-45.12" y="0" font-size="18.4" fill="#4D4D4D">06/02</text>
<line x1="488.64" y1="1214.50" x2="488.64" y2="1220.70" stroke="#333" stroke-width="2"/>
<text transform="translate(494.92,1227.00) rotate(-90)" x="-45.12" y="0" font-size="18.4" fill="#4D4D4D">13/02</text>
<line x1="523.34" y1="1214.50" x2="523.34" y2="1220.70" stroke="#333" stroke-width="2"/>
<text transform="translate(529.63,1227.00) rotate(-90)" x="-45.12" y="0" font-size="18.4" fill="#4D4D4D">20/02</text>
<line x1="558.05" y1="1214.50" x2="558.05" y2="1220.70" stroke="#333" stroke-width="2"/>
<text transform="translate(564.34,1227.00) rotate(-90)" x="-45.12" y="0" font-size="18.4" fill="#4D4D4D">27/02</text>
<line x1="592.75" y1="1214.50" x2="592.75" y2="1220.70" stroke="#333" stroke-width="2"/>
<text transform="translate(599.04,1227.00) rotate(-90)" x="-45.24" y="0" font-size="18.4" fill="#4D4D4D">05/03</text>
<line x1="627.46" y1="1214.50" x2="627.46" y2="1220.70" stroke="#333" stroke-width="2"/>
<text transform="translate(633.75,1227.00) rotate(-90)" x="-45.24" y="0" font-size="18.4" fill="#4D4D4D">12/03</text>
<line x1="662.17" y1="1214.50" x2="662.17" y2="1220.70" stroke="#333" stroke-width="2"/>
<text transform="translate(668.45,1227.00) rotate(-90)" x="-45.24" y="0" font-size="18.4" fill="#4D4D4D">19/03</text>
<line x1="696.87" y1="1214.50" x2="696.87" y2="1220.70" stroke="#333" stroke-width="2"/>
<text transform="translate(703.16,1227.00) rotate(-90)" x="-45.24" y="0" font-size="18.4" fill="#4D4D4D">26/03</text>
<line x1="731.58" y1="1214.50" x2="731.58" y2="1220.70" stroke="#333" stroke-width="2"/>
<text transform="translate(737.87,1227.00) rotate(-90)" x="-45.51" y="0" font-size="18.4" fill="#4D4D4D">02/04</text>
<line x1="766.28" y1="1214.50" x2="766.28" y2="1220.70" stroke="#333" stroke-width="2"/>
<text transform="translate(772.57,1227.00) rotate(-90)" x="-45.51" y="0" font-size="18.4" fill="#4D4D4D">09/04</text>
<line x1="800.99" y1="1214.50" x2="800.99" y2="1220.70" stroke="#333" stroke-width="2"/>
<text transform="translate(807.28,1227.00) rotate(-90)" x="-45.51" y="0" font-size="18.4" fill="#4D4D4D">16/04</text>
<line x1="835.70" y1="1214.50" x2="835.70" y2="1220.70" stroke="#333" stroke-width="2"/>
<text transform="translate(841.98,1227.00) rotate(-90)" x="-45.51" y="0" font-size="18.4" fill="#4D4D4D">23/04</text>
<line x1="870.40" y1="1214.50" x2="870.40" y2="1220.70" stroke="#333" stroke-width="2"/>
<text transform="translate(876.69,1227.00) rotate(-90)" x="-45.51" y="0" font-size="18.4" fill="#4D4D4D">30/04</text>
<line x1="905.11" y1="1214.50" x2="905.11" y2="1220.70" stroke="#333" stroke-width="2"/>
<text transform="translate(911.40,1227.00) rotate(-90)" x="-45.27" y="0" font-size="18.4" fill="#4D4D4D">07/05</text>
<line x1="939.81" y1="1214.50" x2="939.81" y2="1220.70" stroke="#333" stroke-width="2"/>
<text transform="translate(946.10,1227.00) rotate(-90)" x="-45.27" y="0" font-size="18.4" fill="#4D4D4D">14/05</text>
<line x1="974.52" y1="1214.50" x2="974.52" y2="1220.70" stroke="#333" stroke-width="2"/>
<text transform="translate(980.81,1227.00) rotate(-90)" x="-45.27" y="0" font-size="18.4" fill="#4D4D4D">21/05</text>
<line x1="1009.23" y1="1214.50" x2="1009.23" y2="1220.70" stroke="#333" stroke-width="2"/>
<text transform="translate(1015.51,1227.00) rotate(-90)" x="-45.27" y="0" font-size="18.4" fill="#4D4D4D">28/05</text>
<line x1="1043.93" y1="1214.50" x2="1043.93" y2="1220.70" stroke="#333" stroke-width="2"/>
<text transform="translate(1050.22,1227.00) rotate(-90)" x="-45.24" y="0" font-size="18.4" fill="#4D4D4D">04/06</text>
<line x1="1078.64" y1="1214.50" x2="1078.64" y2="1220.70" stroke="#333" stroke-width="2"/>
<text transform="translate(1084.93,1227.00) rotate(-90)" x="-45.24" y="0" font-size="18.4" fill="#4D4D4D">11/06</text>
<line x1="1113.34" y1="1214.50" x2="1113.34" y2="1220.70" stroke="#333" stroke-width="2"/>
<text transform="translate(1119.63,1227.00) rotate(-90)" x="-45.24" y="0" font-size="18.4" fill="#4D4D4D">18/06</text>
<line x1="1148.05" y1="1214.50" x2="1148.05" y2="1220.70" stroke="#333" stroke-width="2"/>
<text transform="translate(1154.34,1227.00) rotate(-90)" x="-45.24" y="0" font-size="18.4" fill="#4D4D4D">25/06</text>
<line x1="1182.76" y1="1214.50" x2="1182.76" y2="1220.70" stroke="#333" stroke-width="2"/>
<text transform="translate(1189.04,1227.00) rotate(-90)" x="-45.12" y="0" font-size="18.4" fill="#4D4D4D">02/07</text>
<line x1="1217.46" y1="1214.50" x2="1217.46" y2="1220.70" stroke="#333" stroke-width="2"/>
<text transform="translate(1223.75,1227.00) rotate(-90)" x="-45.12" y="0" font-size="18.4" fill="#4D4D4D">09/07</text>
<line x1="1252.17" y1="1214.50" x2="1252.17" y2="1220.70" stroke="#333" stroke-width="2"/>
<text transform="translate(1258.46,1227.00) rotate(-90)" x="-45.12" y="0" font-size="18.4" fill="#4D4D4D">16/07</text>
<line x1="1286.87" y1="1214.50" x2="1286.87" y2="1220.70" stroke="#333" stroke-width="2"/>
<text transform="translate(1293.16,1227.00) rotate(-90)" x="-45.12" y="0" font-size="18.4" fill="#4D4D4D">23/07</text>
<line x1="1321.58" y1="1214.50" x2="1321.58" y2="1220.70" stroke="#333" stroke-width="2"/>
<text transform="translate(1327.87,1227.00) rotate(-90)" x="-45.12" y="0" font-size="18.4" fill="#4D4D4D">30/07</text>
<line x1="1356.29" y1="1214.50" x2="1356.29" y2="1220.70" stroke="#333" stroke-width="2"/>
<text transform="translate(1362.57,1227.00) rotate(-90)" x="-45.25" y="0" font-size="18.4" fill="#4D4D4D">06/08</text>
<line x1="1390.99" y1="1214.50" x2="1390.99" y2="1220.70" stroke="#333" stroke-width="2"/>
<text transform="translate(1397.28,1227.00) rotate(-90)" x="-45.25" y="0" font-size="18.4" fill="#4D4D4D">13/08</text>
<line x1="1425.70" y1="1214.50" x2="1425.70" y2="1220.70" stroke="#333" stroke-width="2"/>
<text transform="translate(1431.99,1227.00) rotate(-90)" x="-45.25" y="0" font-size="18.4" fill="#4D4D4D">20/08</text>
<line x1="1460.40" y1="1214.50" x2="1460.40" y2="1220.70" stroke="#333" stroke-width="2"/>
<text transform="translate(1466.69,1227.00) rotate(-90)" x="-45.25" y="0" font-size="18.4" fill="#4D4D4D">27/08</text>
<line x1="1495.11" y1="1214.50" x2="1495.11" y2="1220.70" stroke="#333" stroke-width="2"/>
<text transform="translate(1501.40,1227.00) rotate(-90)" x="-45.17" y="0" font-size="18.4" fill="#4D4D4D">03/09</text>
<line x1="1529.82" y1="1214.50" x2="1529.82" y2="1220.70" stroke="#333" stroke-width="2"/>
<text transform="translate(1536.10,1227.00) rotate(-90)" x="-45.17" y="0" font-size="18.4" fill="#4D4D4D">10/09</text>
<line x1="1564.52" y1="1214.50" x2="1564.52" y2="1220.70" stroke="#333" stroke-width="2"/>
<text transform="translate(1570.81,1227.00) rotate(-90)" x="-45.17" y="0" font-size="18.4" fill="#4D4D4D">17/09</text>
<line x1="1599.23" y1="1214.50" x2="1599.23" y2="1220.70" stroke="#333" stroke-width="2"/>
<text transform="translate(1605.52,1227.00) rotate(-90)" x="-45.17" y="0" font-size="18.4" fill="#4D4D4D">24/09</text>
<line x1="1633.93" y1="1214.50" x2="1633.93" y2="1220.70" stroke="#333" stroke-width="2"/>
<text transform="translate(1640.22,1227.00) rotate(-90)" x="-45.33" y="0" font-size="18.4" fill="#4D4D4D">01/10</text>
<line x1="1668.64" y1="1214.50" x2="1668.64" y2="1220.70" stroke="#333" stroke-width="2"/>
<text transform="translate(1674.93,1227.00) rotate(-90)" x="-45.33" y="0" font-size="18.4" fill="#4D4D4D">08/10</text>
<line x1="1703.35" y1="1214.50" x2="1703.35" y2="1220.70" stroke="#333" stroke-width="2"/>
<text transform="translate(1709.63,1227.00) rotate(-90)" x="-45.33" y="0" font-size="18.4" fill="#4D4D4D">15/10</text>
<line x1="1738.05" y1="1214.50" x2="1738.05" y2="1220.70" stroke="#333" stroke-width="2"/>
<text transform="translate(1744.34,1227.00) rotate(-90)" x="-45.33" y="0" font-size="18.4" fill="#4D4D4D">22/10</text>
<line x1="1772.76" y1="1214.50" x2="1772.76" y2="1220.70" stroke="#333" stroke-width="2"/>
<text transform="translate(1779.05,1227.00) rotate(-90)" x="-45.33" y="0" font-size="18.4" fill="#4D4D4D">29/10</text>
<line x1="1807.46" y1="1214.50" x2="1807.46" y2="1220.70" stroke="#333" stroke-width="2"/>
<text transform="translate(1813.75,1227.00) rotate(-90)" x="-45.15" y="0" font-size="18.4" fill="#4D4D4D">05/11</text>
<line x1="1842.17" y1="1214.50" x2="1842.17" y2="1220.70" stroke="#333" stroke-width="2"/>
<text transform="translate(1848.46,1227.00) rotate(-90)" x="-45.15" y="0" font-size="18.4" fill="#4D4D4D">12/11</text>
<line x1="1876.88" y1="1214.50" x2="1876.88" y2="1220.70" stroke="#333" stroke-width="2"/>
<text transform="translate(1883.16,1227.00) rotate(-90)" x="-45.15" y="0" font-size="18.4" fill="#4D4D4D">19/11</text>
<line x1="1911.58" y1="1214.50" x2="1911.58" y2="1220.70" stroke="#333" stroke-width="2"/>
<text transform="translate(1917.87,1227.00) rotate(-90)" x="-45.15" y="0" font-size="18.4" fill="#4D4D4D">26/11</text>
<line x1="1946.29" y1="1214.50" x2="1946.29" y2="1220.70" stroke="#333" stroke-width="2"/>
<text transform="translate(1952.58,1227.00) rotate(-90)" x="-45.12" y="0" font-size="18.4" fill="#4D4D4D">03/12</text>
<line x1="1980.99" y1="1214.50" x2="1980.99" y2="1220.70" stroke="#333" stroke-width="2"/>
<text transform="translate(1987.28,1227.00) rotate(-90)" x="-45.12" y="0" font-size="18.4" fill="#4D4D4D">10/12</text>
<line x1="2015.70" y1="1214.50" x2="2015.70" y2="1220.70" stroke="#333" stroke-width="2"/>
<text transform="translate(2021.99,1227.00) rotate(-90)" x="-45.12" y="0" font-size="18.4" fill="#4D4D4D">17/12</text>
<line x1="2050.41" y1="1214.50" x2="2050.41" y2="1220.70" stroke="#333" stroke-width="2"/>
<text transform="translate(2056.69,1227.00) rotate(-90)" x="-45.12" y="0" font-size="18.4" fill="#4D4D4D">24/12</text>
<line x1="2085.11" y1="1214.50" x2="2085.11" y2="1220.70" stroke="#333" stroke-width="2"/>
<text transform="translate(2091.40,1227.00) rotate(-90)" x="-45.12" y="0" font-size="18.4" fill="#4D4D4D">31/12</text>
<line x1="2119.82" y1="1214.50" x2="2119.82" y2="1220.70" stroke="#333" stroke-width="2"/>
<text transform="translate(2126.11,1227.00) rotate(-90)" x="-45.15" y="0" font-size="18.4" fill="#4D4D4D">07/01</text>
<line x1="2154.52" y1="1214.50" x2="2154.52" y2="1220.70" stroke="#333" stroke-width="2"/>
<text transform="translate(2160.81,1227.00) rotate(-90)" x="-45.15" y="0" font-size="18.4" fill="#4D4D4D">14/01</text>
<line x1="2189.23" y1="1214.50" x2="2189.23" y2="1220.70" stroke="#333" stroke-width="2"/>
<text transform="translate(2195.52,1227.00) rotate(-90)" x="-45.15" y="0" font-size="18.4" fill="#4D4D4D">21/01</text>
<line x1="2223.94" y1="1214.50" x2="2223.94" y2="1220.70" stroke="#333" stroke-width="2"/>
<text transform="translate(2230.22,1227.00) rotate(-90)" x="-45.15" y="0" font-size="18.4" fill="#4D4D4D">28/01</text>
<line x1="2258.64" y1="1214.50" x2="2258.64" y2="1220.70" stroke="#333" stroke-width="2"/>
<text transform="translate(2264.93,1227.00) rotate(-90)" x="-45.12" y="0" font-size="18.4" fill="#4D4D4D">04/02</text>
<line x1="2293.35" y1="1214.50" x2="2293.35" y2="1220.70" stroke="#333" stroke-width="2"/>
<text transform="translate(2299.64,1227.00) rotate(-90)" x="-45.12" y="0" font-size="18.4" fill="#4D4D4D">11/02</text>
<text x="1269.11" y="1295.10" font-size="23.10" font-weight="normal" fill="#000" >Data</text>
<text transform="translate(187.0,878.4) rotate(-90)" x="-64.29" y="0" font-size="23.6" fill="#000">N° de casos</text>
<rect x="1385.00" y="602.00" width="47.60" height="47.60" fill="#A6DED6" />
<rect x="1385.00" y="652.30" width="47.60" height="47.40" fill="#74B8B2" />
<text x="1445.13" y="635.00" font-size="23.50" font-weight="normal" fill="#666" textLength="268.69" lengthAdjust="spacingAndGlyphs" font-family='"Liberation Sans", sans-serif' >Data de início de sintomas</text>
<text x="1445.08" y="681.60" font-size="23.50" font-weight="normal" fill="#666" textLength="324.50" lengthAdjust="spacingAndGlyphs" font-family='"Liberation Sans", sans-serif' >Data de diagnóstico/notificação</text>
<text transform="translate(140.16,1388.00) scale(0.86,1)" x="0" y="0" font-size="69.04" font-weight="normal" fill="#767171" letter-spacing="2.892" font-family='"Liberation Sans", sans-serif' style="font-kerning:none"  stroke="#767171" stroke-width="2.73" stroke-linejoin="round">CARACTERIZAÇÃO DEMOGRÁFICA DOS CASOS CONFIRMADOS</text>
<rect x="135.50" y="1419.00" width="2244.50" height="4.50" fill="#767171" />
<text x="138.45" y="1495.30" font-size="47.24" font-weight="normal" fill="#767171" textLength="364.98" lengthAdjust="spacingAndGlyphs" font-family='"Liberation Sans", sans-serif' >TOTAL DE CASOS</text>
<rect x="155.40" y="1538.00" width="290.60" height="142.00" fill="#5AA0AC" />
<rect x="512.80" y="1538.00" width="292.20" height="142.00" fill="#FF8B7A" />
<text x="192.22" y="1627.80" font-size="60.17" font-weight="bold" fill="#fff" textLength="216.81" lengthAdjust="spacingAndGlyphs" font-family='"Liberation Sans", sans-serif' >355 687</text>
<text x="547.38" y="1631.80" font-size="60.17" font-weight="bold" fill="#fff" textLength="218.60" lengthAdjust="spacingAndGlyphs" font-family='"Liberation Sans", sans-serif' >431 110</text>
<text x="220.46" y="1743.60" font-size="40.70" font-weight="bold" fill="#5BAFD6" textLength="166.72" lengthAdjust="spacingAndGlyphs" font-family='"Liberation Sans", sans-serif' >HOMENS</text>
<text x="562.60" y="1743.60" font-size="40.70" font-weight="bold" fill="#FA8C78" textLength="201.40" lengthAdjust="spacingAndGlyphs" font-family='"Liberation Sans", sans-serif' >MULHERES</text>
<rect x="155.40" y="1788.50" width="290.60" height="141.50" fill="#B3B3B3" />
<text x="247.50" y="1884.00" font-size="61.60" font-weight="bold" fill="#fff" textLength="101.23" lengthAdjust="spacingAndGlyphs" font-family='"Liberation Sans", sans-serif' >262</text>
<text x="146.83" y="1993.00" font-size="40.70" font-weight="bold" fill="#B3B3B3" textLength="316.51" lengthAdjust="spacingAndGlyphs" font-family='"Liberation Sans", sans-serif' >DESCONHECIDO*</text>
<text x="156.59" y="2084.00" font-size="35.61" font-weight="bold" fill="#6B6B6B" textLength="97.17" lengthAdjust="spacingAndGlyphs" font-family='"Liberation Sans", sans-serif' >*Nota</text>
<text x="153.97" y="2129.00" font-size="29.51" font-weight="normal" fill="#767676" textLength="867.43" lengthAdjust="spacingAndGlyphs" font-family='"Liberation Sans", sans-serif' >Os casos de sexo desconhecido encontram-se sob investigação,</text>
<text x="153.41" y="2172.00" font-size="29.51" font-weight="normal" fill="#767676" textLength="911.18" lengthAdjust="spacingAndGlyphs" font-family='"Liberation Sans", sans-serif' >uma vez que estes dados não são fornecidos de forma automática.</text>
<line x1="1237.70" y1="1984.00" x2="2306.60" y2="1984.00" stroke="#989898" stroke-width="4.7" stroke-dasharray="4.7 7.9"/>
<line x1="1237.70" y1="1949.60" x2="2306.60" y2="1949.60" stroke="#989898" stroke-width="4.7" stroke-dasharray="4.7 7.9"/>
<line x1="1237.70" y1="1915.20" x2="2306.60" y2="1915.20" stroke="#989898" stroke-width="4.7" stroke-dasharray="4.7 7.9"/>
<line x1="1237.70" y1="1880.80" x2="2306.60" y2="1880.80" stroke="#989898" stroke-width="4.7" stroke-dasharray="4.7 7.9"/>
<line x1="1237.70" y1="1846.40" x2="2306.60" y2="1846.40" stroke="#989898" stroke-width="4.7" stroke-dasharray="4.7 7.9"/>
<line x1="1237.70" y1="1812.00" x2="2306.60" y2="1812.00" stroke="#989898" stroke-width="4.7" stroke-dasharray="4.7 7.9"/>
<line x1="1237.70" y1="1777.60" x2="2306.60" y2="1777.60" stroke="#989898" stroke-width="4.7" stroke-dasharray="4.7 7.9"/>
<line x1="1237.70" y1="1743.20" x2="2306.60" y2="1743.20" stroke="#989898" stroke-width="4.7" stroke-dasharray="4.7 7.9"/>
<line x1="1237.70" y1="1708.80" x2="2306.60" y2="1708.80" stroke="#989898" stroke-width="4.7" stroke-dasharray="4.7 7.9"/>
<line x1="1237.70" y1="1674.40" x2="2306.60" y2="1674.40" stroke="#989898" stroke-width="4.7" stroke-dasharray="4.7 7.9"/>
<line x1="1237.70" y1="1640.00" x2="2306.60" y2="1640.00" stroke="#989898" stroke-width="4.7" stroke-dasharray="4.7 7.9"/>
<line x1="1237.70" y1="1605.60" x2="2306.60" y2="1605.60" stroke="#989898" stroke-width="4.7" stroke-dasharray="4.7 7.9"/>
<line x1="1237.70" y1="1571.20" x2="2306.60" y2="1571.20" stroke="#989898" stroke-width="4.7" stroke-dasharray="4.7 7.9"/>
<line x1="1237.70" y1="1536.80" x2="2306.60" y2="1536.80" stroke="#989898" stroke-width="4.7" stroke-dasharray="4.7 7.9"/>
<line x1="1237.70" y1="1502.40" x2="2306.60" y2="1502.40" stroke="#989898" stroke-width="4.7" stroke-dasharray="4.7 7.9"/>
<rect x="1258.70" y="1865.70" width="25.80" height="152.70" fill="#fff"/>
<rect x="1260.20" y="1867.20" width="22.80" height="151.20" fill="#5AA0AC"/>
<rect x="1284.70" y="1871.50" width="25.80" height="146.90" fill="#fff"/>
<rect x="1286.20" y="1873.00" width="22.80" height="145.40" fill="#FF8B7A"/>
<rect x="1378.04" y="1767.50" width="25.80" height="250.90" fill="#fff"/>
<rect x="1379.54" y="1769.00" width="22.80" height="249.40" fill="#5AA0AC"/>
<rect x="1404.04" y="1765.30" width="25.80" height="253.10" fill="#fff"/>
<rect x="1405.54" y="1766.80" width="22.80" height="251.60" fill="#FF8B7A"/>
<rect x="1497.39" y="1657.40" width="25.80" height="361.00" fill="#fff"/>
<rect x="1498.89" y="1658.90" width="22.80" height="359.50" fill="#5AA0AC"/>
<rect x="1523.39" y="1606.30" width="25.80" height="412.10" fill="#fff"/>
<rect x="1524.89" y="1607.80" width="22.80" height="410.60" fill="#FF8B7A"/>
<rect x="1616.73" y="1665.40" width="25.80" height="353.00" fill="#fff"/>
<rect x="1618.23" y="1666.90" width="22.80" height="351.50" fill="#5AA0AC"/>
<rect x="1642.73" y="1594.60" width="25.80" height="423.80" fill="#fff"/>
<rect x="1644.23" y="1596.10" width="22.80" height="422.30" fill="#FF8B7A"/>
<rect x="1736.08" y="1621.40" width="25.80" height="397.00" fill="#fff"/>
<rect x="1737.58" y="1622.90" width="22.80" height="395.50" fill="#5AA0AC"/>
<rect x="1762.08" y="1512.70" width="25.80" height="505.70" fill="#fff"/>
<rect x="1763.58" y="1514.20" width="22.80" height="504.20" fill="#FF8B7A"/>
<rect x="1855.42" y="1666.30" width="25.80" height="352.10" fill="#fff"/>
<rect x="1856.92" y="1667.80" width="22.80" height="350.60" fill="#5AA0AC"/>
<rect x="1881.42" y="1569.60" width="25.80" height="448.80" fill="#fff"/>
<rect x="1882.92" y="1571.10" width="22.80" height="447.30" fill="#FF8B7A"/>
<rect x="1974.77" y="1756.80" width="25.80" height="261.60" fill="#fff"/>
<rect x="1976.27" y="1758.30" width="22.80" height="260.10" fill="#5AA0AC"/>
<rect x="2000.77" y="1735.60" width="25.80" height="282.80" fill="#fff"/>
<rect x="2002.27" y="1737.10" width="22.80" height="281.30" fill="#FF8B7A"/>
<rect x="2094.11" y="1851.70" width="25.80" height="166.70" fill="#fff"/>
<rect x="2095.61" y="1853.20" width="22.80" height="165.20" fill="#5AA0AC"/>
<rect x="2120.11" y="1829.50" width="25.80" height="188.90" fill="#fff"/>
<rect x="2121.61" y="1831.00" width="22.80" height="187.40" fill="#FF8B7A"/>
<rect x="2213.46" y="1871.60" width="25.80" height="146.80" fill="#fff"/>
<rect x="2214.96" y="1873.10" width="22.80" height="145.30" fill="#5AA0AC"/>
<rect x="2239.46" y="1719.60" width="25.80" height="298.80" fill="#fff"/>
<rect x="2240.96" y="1721.10" width="22.80" height="297.30" fill="#FF8B7A"/>
<line x1="1238.50" y1="1502.00" x2="1238.50" y2="2020.70" stroke="#989898" stroke-width="4.6"/>
<line x1="1236.20" y1="2018.40" x2="2312.60" y2="2018.40" stroke="#989898" stroke-width="4.6"/>
<text x="1184.77" y="2030.50" font-size="34.40" font-weight="normal" fill="#666666" textLength="19.61" lengthAdjust="spacingAndGlyphs" font-family='"Liberation Sans", sans-serif' >0</text>
<text x="1125.94" y="1996.10" font-size="34.40" font-weight="normal" fill="#666666" textLength="78.44" lengthAdjust="spacingAndGlyphs" font-family='"Liberation Sans", sans-serif' >5000</text>
<text x="1106.33" y="1961.70" font-size="34.40" font-weight="normal" fill="#666666" textLength="98.05" lengthAdjust="spacingAndGlyphs" font-family='"Liberation Sans", sans-serif' >10000</text>
<text x="1106.33" y="1927.30" font-size="34.40" font-weight="normal" fill="#666666" textLength="98.05" lengthAdjust="spacingAndGlyphs" font-family='"Liberation Sans", sans-serif' >15000</text>
<text x="1106.33" y="1892.90" font-size="34.40" font-weight="normal" fill="#666666" textLength="98.05" lengthAdjust="spacingAndGlyphs" font-family='"Liberation Sans", sans-serif' >20000</text>
<text x="1106.33" y="1858.50" font-size="34.40" font-weight="normal" fill="#666666" textLength="98.05" lengthAdjust="spacingAndGlyphs" font-family='"Liberation Sans", sans-serif' >25000</text>
<text x="1106.33" y="1824.10" font-size="34.40" font-weight="normal" fill="#666666" textLength="98.05" lengthAdjust="spacingAndGlyphs" font-family='"Liberation Sans", sans-serif' >30000</text>
<text x="1106.33" y="1789.70" font-size="34.40" font-weight="normal" fill="#666666" textLength="98.05" lengthAdjust="spacingAndGlyphs" font-family='"Liberation Sans", sans-serif' >35000</text>
<text x="1106.33" y="1755.30" font-size="34.40" font-weight="normal" fill="#666666" textLength="98.05" lengthAdjust="spacingAndGlyphs" font-family='"Liberation Sans", sans-serif' >40000</text>
<text x="1106.33" y="1720.90" font-size="34.40" font-weight="normal" fill="#666666" textLength="98.05" lengthAdjust="spacingAndGlyphs" font-family='"Liberation Sans", sans-serif' >45000</text>
<text x="1106.33" y="1686.50" font-size="34.40" font-weight="normal" fill="#666666" textLength="98.05" lengthAdjust="spacingAndGlyphs" font-family='"Liberation Sans", sans-serif' >50000</text>
<text x="1106.33" y="1652.10" font-size="34.40" font-weight="normal" fill="#666666" textLength="98.05" lengthAdjust="spacingAndGlyphs" font-family='"Liberation Sans", sans-serif' >55000</text>
<text x="1106.33" y="1617.70" font-size="34.40" font-weight="normal" fill="#666666" textLength="98.05" lengthAdjust="spacingAndGlyphs" font-family='"Liberation Sans", sans-serif' >60000</text>
<text x="1106.33" y="1583.30" font-size="34.40" font-weight="normal" fill="#666666" textLength="98.05" lengthAdjust="spacingAndGlyphs" font-family='"Liberation Sans", sans-serif' >65000</text>
<text x="1106.33" y="1548.90" font-size="34.40" font-weight="normal" fill="#666666" textLength="98.05" lengthAdjust="spacingAndGlyphs" font-family='"Liberation Sans", sans-serif' >70000</text>
<text x="1106.33" y="1514.50" font-size="34.40" font-weight="normal" fill="#666666" textLength="98.05" lengthAdjust="spacingAndGlyphs" font-family='"Liberation Sans", sans-serif' >75000</text>
<text x="1248.65" y="2085.70" font-size="38.00" font-weight="normal" fill="#666666" textLength="99.36" lengthAdjust="spacingAndGlyphs" font-family='"Liberation Sans", sans-serif' >00-09</text>
<text x="1366.51" y="2085.70" font-size="38.00" font-weight="normal" fill="#666666" textLength="100.87" lengthAdjust="spacingAndGlyphs" font-family='"Liberation Sans", sans-serif' >10-19</text>
<text x="1486.90" y="2085.70" font-size="38.00" font-weight="normal" fill="#666666" textLength="99.81" lengthAdjust="spacingAndGlyphs" font-family='"Liberation Sans", sans-serif' >20-29</text>
<text x="1606.73" y="2085.70" font-size="38.00" font-weight="normal" fill="#666666" textLength="99.32" lengthAdjust="spacingAndGlyphs" font-family='"Liberation Sans", sans-serif' >30-39</text>
<text x="1726.66" y="2085.70" font-size="38.00" font-weight="normal" fill="#666666" textLength="98.71" lengthAdjust="spacingAndGlyphs" font-family='"Liberation Sans", sans-serif' >40-49</text>
<text x="1845.34" y="2085.70" font-size="38.00" font-weight="normal" fill="#666666" textLength="99.40" lengthAdjust="spacingAndGlyphs" font-family='"Liberation Sans", sans-serif' >50-59</text>
<text x="1964.26" y="2085.70" font-size="38.00" font-weight="normal" fill="#666666" textLength="99.83" lengthAdjust="spacingAndGlyphs" font-family='"Liberation Sans", sans-serif' >60-69</text>
<text x="2083.58" y="2085.70" font-size="38.00" font-weight="normal" fill="#666666" textLength="99.85" lengthAdjust="spacingAndGlyphs" font-family='"Liberation Sans", sans-serif' >70-79</text>
<text x="2219.53" y="2085.70" font-size="38.00" font-weight="normal" fill="#666666" textLength="67.03" lengthAdjust="spacingAndGlyphs" font-family='"Liberation Sans", sans-serif' >80+</text>
<text x="1641.44" y="2147.40" font-size="36.34" font-weight="normal" fill="#666666" textLength="268.13" lengthAdjust="spacingAndGlyphs" font-family='"Liberation Sans", sans-serif' >GRUPO ETÁRIO</text>
<text transform="translate(1086.70,1762.00) rotate(-90) scale(0.8454,1)" x="-155.18" y="0" font-size="35.90" fill="#666666">TOTAL DE CASOS</text>
<text transform="translate(145.46,2311.30) scale(0.86,1)" x="0" y="0" font-size="69.04" font-weight="normal" fill="#767171" letter-spacing="2.940" font-family='"Liberation Sans", sans-serif' style="font-kerning:none"  stroke="#767171" stroke-width="2.73" stroke-linejoin="round">CARACTERIZAÇÃO DOS ÓBITOS POR COVID-19</text>
<rect x="141.40" y="2345.00" width="2244.20" height="5.50" fill="#767171" />
<text x="144.03" y="2420.20" font-size="47.24" font-weight="normal" fill="#767171" textLength="386.45" lengthAdjust="spacingAndGlyphs" font-family='"Liberation Sans", sans-serif' >TOTAL DE ÓBITOS</text>
<rect x="156.20" y="2468.20" width="290.60" height="142.40" fill="#5AA0AC" />
<rect x="511.80" y="2468.20" width="291.20" height="142.40" fill="#FF8B7A" />
<text x="220.33" y="2556.90" font-size="60.17" font-weight="bold" fill="#fff" textLength="147.82" lengthAdjust="spacingAndGlyphs" font-family='"Liberation Sans", sans-serif' >8 041</text>
<text x="580.19" y="2559.40" font-size="60.17" font-weight="bold" fill="#fff" textLength="151.90" lengthAdjust="spacingAndGlyphs" font-family='"Liberation Sans", sans-serif' >7 370</text>
<text x="215.66" y="2674.10" font-size="40.70" font-weight="bold" fill="#5BAFD6" textLength="166.62" lengthAdjust="spacingAndGlyphs" font-family='"Liberation Sans", sans-serif' >HOMENS</text>
<text x="560.61" y="2674.10" font-size="40.70" font-weight="bold" fill="#FA8C78" textLength="200.79" lengthAdjust="spacingAndGlyphs" font-family='"Liberation Sans", sans-serif' >MULHERES</text>
<line x1="1240.80" y1="2826.95" x2="2310.80" y2="2826.95" stroke="#989898" stroke-width="4.7" stroke-dasharray="4.7 7.9"/>
<line x1="1240.80" y1="2793.90" x2="2310.80" y2="2793.90" stroke="#989898" stroke-width="4.7" stroke-dasharray="4.7 7.9"/>
<line x1="1240.80" y1="2760.85" x2="2310.80" y2="2760.85" stroke="#989898" stroke-width="4.7" stroke-dasharray="4.7 7.9"/>
<line x1="1240.80" y1="2727.80" x2="2310.80" y2="2727.80" stroke="#989898" stroke-width="4.7" stroke-dasharray="4.7 7.9"/>
<line x1="1240.80" y1="2694.75" x2="2310.80" y2="2694.75" stroke="#989898" stroke-width="4.7" stroke-dasharray="4.7 7.9"/>
<line x1="1240.80" y1="2661.70" x2="2310.80" y2="2661.70" stroke="#989898" stroke-width="4.7" stroke-dasharray="4.7 7.9"/>
<line x1="1240.80" y1="2628.65" x2="2310.80" y2="2628.65" stroke="#989898" stroke-width="4.7" stroke-dasharray="4.7 7.9"/>
<line x1="1240.80" y1="2595.60" x2="2310.80" y2="2595.60" stroke="#989898" stroke-width="4.7" stroke-dasharray="4.7 7.9"/>
<line x1="1240.80" y1="2562.55" x2="2310.80" y2="2562.55" stroke="#989898" stroke-width="4.7" stroke-dasharray="4.7 7.9"/>
<line x1="1240.80" y1="2529.50" x2="2310.80" y2="2529.50" stroke="#989898" stroke-width="4.7" stroke-dasharray="4.7 7.9"/>
<line x1="1240.80" y1="2496.45" x2="2310.80" y2="2496.45" stroke="#989898" stroke-width="4.7" stroke-dasharray="4.7 7.9"/>
<line x1="1240.80" y1="2463.40" x2="2310.80" y2="2463.40" stroke="#989898" stroke-width="4.7" stroke-dasharray="4.7 7.9"/>
<rect x="1745.97" y="2853.80" width="33.50" height="6.20" fill="#fff"/>
<rect x="1747.47" y="2855.30" width="30.50" height="4.70" fill="#5AA0AC"/>
<rect x="1865.43" y="2841.40" width="33.50" height="18.60" fill="#fff"/>
<rect x="1866.93" y="2842.90" width="30.50" height="17.10" fill="#5AA0AC"/>
<rect x="1899.93" y="2853.50" width="33.50" height="6.50" fill="#fff"/>
<rect x="1901.43" y="2855.00" width="30.50" height="5.00" fill="#FF8B7A"/>
<rect x="1984.90" y="2798.50" width="33.50" height="61.50" fill="#fff"/>
<rect x="1986.40" y="2800.00" width="30.50" height="60.00" fill="#5AA0AC"/>
<rect x="2019.40" y="2834.20" width="33.50" height="25.80" fill="#fff"/>
<rect x="2020.90" y="2835.70" width="30.50" height="24.30" fill="#FF8B7A"/>
<rect x="2104.37" y="2727.40" width="33.50" height="132.60" fill="#fff"/>
<rect x="2105.87" y="2728.90" width="30.50" height="131.10" fill="#5AA0AC"/>
<rect x="2138.87" y="2781.70" width="33.50" height="78.30" fill="#fff"/>
<rect x="2140.37" y="2783.20" width="30.50" height="76.80" fill="#FF8B7A"/>
<rect x="2223.83" y="2550.60" width="33.50" height="309.40" fill="#fff"/>
<rect x="2225.33" y="2552.10" width="30.50" height="307.90" fill="#5AA0AC"/>
<rect x="2258.33" y="2491.40" width="33.50" height="368.60" fill="#fff"/>
<rect x="2259.83" y="2492.90" width="30.50" height="367.10" fill="#FF8B7A"/>
<line x1="1241.60" y1="2463.50" x2="1241.60" y2="2862.30" stroke="#989898" stroke-width="4.6"/>
<line x1="1239.30" y1="2860.00" x2="2316.80" y2="2860.00" stroke="#989898" stroke-width="4.6"/>
<text x="1187.78" y="2871.30" font-size="32.00" font-weight="normal" fill="#666666" textLength="18.95" lengthAdjust="spacingAndGlyphs" font-family='"Liberation Sans", sans-serif' >0</text>
<text x="1149.87" y="2838.25" font-size="32.00" font-weight="normal" fill="#666666" textLength="56.86" lengthAdjust="spacingAndGlyphs" font-family='"Liberation Sans", sans-serif' >500</text>
<text x="1130.92" y="2805.20" font-size="32.00" font-weight="normal" fill="#666666" textLength="75.81" lengthAdjust="spacingAndGlyphs" font-family='"Liberation Sans", sans-serif' >1000</text>
<text x="1130.92" y="2772.15" font-size="32.00" font-weight="normal" fill="#666666" textLength="75.81" lengthAdjust="spacingAndGlyphs" font-family='"Liberation Sans", sans-serif' >1500</text>
<text x="1130.92" y="2739.10" font-size="32.00" font-weight="normal" fill="#666666" textLength="75.81" lengthAdjust="spacingAndGlyphs" font-family='"Liberation Sans", sans-serif' >2000</text>
<text x="1130.92" y="2706.05" font-size="32.00" font-weight="normal" fill="#666666" textLength="75.81" lengthAdjust="spacingAndGlyphs" font-family='"Liberation Sans", sans-serif' >2500</text>
<text x="1130.92" y="2673.00" font-size="32.00" font-weight="normal" fill="#666666" textLength="75.81" lengthAdjust="spacingAndGlyphs" font-family='"Liberation Sans", sans-serif' >3000</text>
<text x="1130.92" y="2639.95" font-size="32.00" font-weight="normal" fill="#666666" textLength="75.81" lengthAdjust="spacingAndGlyphs" font-family='"Liberation Sans", sans-serif' >3500</text>
<text x="1130.92" y="2606.90" font-size="32.00" font-weight="normal" fill="#666666" textLength="75.81" lengthAdjust="spacingAndGlyphs" font-family='"Liberation Sans", sans-serif' >4000</text>
<text x="1130.92" y="2573.85" font-size="32.00" font-weight="normal" fill="#666666" textLength="75.81" lengthAdjust="spacingAndGlyphs" font-family='"Liberation Sans", sans-serif' >4500</text>
<text x="1130.92" y="2540.80" font-size="32.00" font-weight="normal" fill="#666666" textLength="75.81" lengthAdjust="spacingAndGlyphs" font-family='"Liberation Sans", sans-serif' >5000</text>
<text x="1130.92" y="2507.75" font-size="32.00" font-weight="normal" fill="#666666" textLength="75.81" lengthAdjust="spacingAndGlyphs" font-family='"Liberation Sans", sans-serif' >5500</text>
<text x="1130.92" y="2474.70" font-size="32.00" font-weight="normal" fill="#666666" textLength="75.81" lengthAdjust="spacingAndGlyphs" font-family='"Liberation Sans", sans-serif' >6000</text>
<text x="1251.82" y="2926.50" font-size="38.00" font-weight="normal" fill="#666666" textLength="99.36" lengthAdjust="spacingAndGlyphs" font-family='"Liberation Sans", sans-serif' >00-09</text>
<text x="1369.80" y="2926.50" font-size="38.00" font-weight="normal" fill="#666666" textLength="100.87" lengthAdjust="spacingAndGlyphs" font-family='"Liberation Sans", sans-serif' >10-19</text>
<text x="1490.30" y="2926.50" font-size="38.00" font-weight="normal" fill="#666666" textLength="99.81" lengthAdjust="spacingAndGlyphs" font-family='"Liberation Sans", sans-serif' >20-29</text>
<text x="1610.25" y="2926.50" font-size="38.00" font-weight="normal" fill="#666666" textLength="99.32" lengthAdjust="spacingAndGlyphs" font-family='"Liberation Sans", sans-serif' >30-39</text>
<text x="1730.31" y="2926.50" font-size="38.00" font-weight="normal" fill="#666666" textLength="98.71" lengthAdjust="spacingAndGlyphs" font-family='"Liberation Sans", sans-serif' >40-49</text>
<text x="1849.11" y="2926.50" font-size="38.00" font-weight="normal" fill="#666666" textLength="99.40" lengthAdjust="spacingAndGlyphs" font-family='"Liberation Sans", sans-serif' >50-59</text>
<text x="1968.15" y="2926.50" font-size="38.00" font-weight="normal" fill="#666666" textLength="99.83" lengthAdjust="spacingAndGlyphs" font-family='"Liberation Sans", sans-serif' >60-69</text>
<text x="2087.60" y="2926.50" font-size="38.00" font-weight="normal" fill="#666666" textLength="99.85" lengthAdjust="spacingAndGlyphs" font-family='"Liberation Sans", sans-serif' >70-79</text>
<text x="2223.67" y="2926.50" font-size="38.00" font-weight="normal" fill="#666666" textLength="67.03" lengthAdjust="spacingAndGlyphs" font-family='"Liberation Sans", sans-serif' >80+</text>
<text x="1645.09" y="2978.80" font-size="36.34" font-weight="normal" fill="#666666" textLength="268.13" lengthAdjust="spacingAndGlyphs" font-family='"Liberation Sans", sans-serif' >GRUPO ETÁRIO</text>
<text transform="translate(1120.00,2663.00) rotate(-90) scale(0.8904,1)" x="-158.37" y="0" font-size="35.50" fill="#666666">TOTAL DE ÓBITOS</text>
<text x="120.55" y="3096.20" font-size="33.87" font-weight="bold" fill="#6B6B6B" textLength="316.13" lengthAdjust="spacingAndGlyphs" font-family='"Liberation Sans", sans-serif' >Nota metodológica</text>
<text x="122.14" y="3141.30" font-size="29.51" font-weight="normal" fill="#767676" textLength="1626.61" lengthAdjust="spacingAndGlyphs" font-family='"Liberation Sans", sans-serif' >A 16 de novembro de 2020 houve uma atualização do sistema tecnológico de análise de dados provenientes do SINAVE.</text>
<text x="119.69" y="3183.80" font-size="29.51" font-weight="normal" fill="#767676" textLength="1158.10" lengthAdjust="spacingAndGlyphs" font-family='"Liberation Sans", sans-serif' >Foi atualizado o número cumulativo de casos confirmados e recuperados nessa data.</text>
<rect x="129.60" y="3219.60" width="2242.40" height="4.10" fill="#999999" />
<text x="151.92" y="3275.40" font-size="42.15" font-weight="normal" fill="#999999" textLength="668.09" lengthAdjust="spacingAndGlyphs" font-family='"Liberation Sans", sans-serif' >Dados até dia 14-02-2021 23:59:59</text>
<path d="M1348.3 3334 L1348.3 3380.6 Q1338 3384 1331 3391 Q1326 3397 1323.3 3404 L1323.3 3366 Q1325 3343 1348.3 3334 Z" fill="#0A7336"/>
<path d="M1348.3 3334 Q1327 3341 1324.6 3364 Q1331 3346 1348.3 3340.6 Z" fill="#7CB342"/>
<path d="M1349.2 3339.3 Q1365 3335.5 1380 3334.2 L1380 3368 Q1379 3380 1366 3385 Q1355 3387.8 1344 3389 Q1333 3392 1326.5 3401 Q1330 3391 1340 3386 L1349.2 3381 Z" fill="#EE1D23"/>
<path d="M1326.2 3404.5 Q1332 3395.5 1344.6 3393.8 L1344.6 3415 L1333 3413.5 Q1326 3411 1326.2 3404.5 Z" fill="#0A7336"/>
<circle cx="1348.7" cy="3363.3" r="14.6" fill="none" stroke="#F5D21F" stroke-width="2.6"/>
<path d="M1338.3 3352.7 L1357 3352.7 L1357 3368 Q1357 3374 1347.6 3374 Q1338.3 3374 1338.3 3368 Z" fill="#E21F26"/>
<path d="M1342.6 3356.4 L1353.2 3356.4 L1353.2 3366 Q1353.2 3369.5 1347.9 3369.5 Q1342.6 3369.5 1342.6 3366 Z" fill="#fff"/>
<rect x="1346.8" y="3357.6" width="2.2" height="2.4" fill="#1F3C88"/>
<rect x="1344.2" y="3361.1" width="2.2" height="2.4" fill="#1F3C88"/>
<rect x="1349.4" y="3361.1" width="2.2" height="2.4" fill="#1F3C88"/>
<rect x="1346.8" y="3364.6" width="2.2" height="2.4" fill="#1F3C88"/>
<circle cx="1335.5" cy="3357" r="1.6" fill="#1a1a1a"/>
<circle cx="1334.5" cy="3368" r="1.6" fill="#1a1a1a"/>
<circle cx="1340" cy="3376" r="1.6" fill="#1a1a1a"/>
<circle cx="1357" cy="3376" r="1.6" fill="#1a1a1a"/>
<circle cx="1362.5" cy="3368" r="1.6" fill="#1a1a1a"/>
<circle cx="1361.5" cy="3357" r="1.6" fill="#1a1a1a"/>
<text x="1401.19" y="3364.30" font-size="34.20" font-weight="bold" fill="#333333" textLength="174.93" lengthAdjust="spacingAndGlyphs" font-family='"Liberation Serif", serif' >REPÚBLICA</text>
<text x="1401.17" y="3397.90" font-size="34.20" font-weight="bold" fill="#333333" textLength="214.75" lengthAdjust="spacingAndGlyphs" font-family='"Liberation Serif", serif' >PORTUGUESA</text>
<rect x="1401.00" y="3412.80" width="214.70" height="1.40" fill="#555555" />
<text x="1401.25" y="3440.80" font-size="16.28" font-weight="bold" fill="#333333" textLength="54.97" lengthAdjust="spacingAndGlyphs" font-family='"Liberation Sans", sans-serif' >SAÚDE</text>
<defs><linearGradient id="gy" gradientUnits="userSpaceOnUse" x1="1668" y1="0" x2="1772" y2="0"><stop offset="0" stop-color="#3FA845"/><stop offset="0.2" stop-color="#BDBE2C"/><stop offset="0.38" stop-color="#EBC229"/><stop offset="0.62" stop-color="#E9A527"/><stop offset="0.85" stop-color="#E8661E"/><stop offset="1" stop-color="#E2461B"/></linearGradient><linearGradient id="gr" gradientUnits="userSpaceOnUse" x1="1690" y1="0" x2="1760" y2="0"><stop offset="0" stop-color="#DA1F12"/><stop offset="1" stop-color="#B5161A"/></linearGradient><clipPath id="sc"><circle cx="1718.6" cy="3390.9" r="53"/></clipPath></defs>
<g clip-path="url(#sc)">
<rect x="1665.6" y="3337.9" width="106" height="106" fill="#12994A"/>
<path d="M1691.2 3362.5 Q1711 3352 1751 3349.4 Q1765 3352 1775 3372 L1775 3394 L1771.3 3392 Q1762 3383 1740 3379.2 Q1718 3380 1705 3392 Q1699.5 3400 1698.5 3410.5 L1697.8 3446 L1676 3446 Q1668 3425 1674.5 3404.7 Q1686 3398 1689.1 3379.2 Z" fill="url(#gy)"/>
<path d="M1694 3330 L1770 3330 L1752 3350.0 Q1729 3349.6 1710.9 3355.1 Q1698 3358.6 1691.0 3363.1 Z" fill="url(#gr)"/>
<path d="M1690.5 3363.2 L1700.7 3363.2 L1688.6 3379.3 Z" fill="#fff"/>
<path d="M1740 3379.2 Q1762 3382 1771.8 3392.2 L1775 3408 L1767.6 3409.8 Q1758 3414 1748.7 3416.3 Q1748.5 3402 1747.2 3397.4 Q1745 3388 1740 3379.2 Z" fill="#C8191B"/>
<path d="M1698.5 3410.5 Q1700 3392 1718 3382.9 Q1730 3378.5 1740 3379.2 Q1747 3390 1748.7 3416.3 Q1735 3420 1720 3419.5 Q1706 3418 1698.5 3410.5 Z" fill="#fff"/>
</g>
<rect x="1793.60" y="3337.80" width="1.20" height="105.50" fill="#666666" />
<text x="1817.02" y="3385.20" font-size="67.88" font-weight="bold" fill="#4A4A4A" textLength="112.62" lengthAdjust="spacingAndGlyphs" font-family='"Liberation Sans", sans-serif' >SNS</text>
<text x="1817.77" y="3414.40" font-size="24.27" font-weight="normal" fill="#555555" textLength="180.33" lengthAdjust="spacingAndGlyphs" font-family='"Liberation Sans", sans-serif' >SERVIÇO NACIONAL</text>
<text x="1817.10" y="3443.30" font-size="24.27" font-weight="normal" fill="#555555" textLength="93.38" lengthAdjust="spacingAndGlyphs" font-family='"Liberation Sans", sans-serif' >DE SAÚDE</text>
<path d="M2061.7 3367.6 Q2062 3360 2066 3357.2 Q2068 3353.5 2072 3353.3 Q2090 3352 2108.5 3350.4 L2120.8 3350.4 Q2124.5 3353 2124.5 3356.5 Q2122 3362 2119.6 3363.3 Q2112 3368 2105.4 3369.5 Q2085 3369 2061.7 3367.6 Z" fill="#0B6E3A"/>
<path d="M2066 3365.2 Q2090 3367.5 2111.6 3367.6 Q2120 3364 2125.1 3362.7 Q2130 3360.5 2135 3360.2 L2140.5 3375 Q2136 3378 2130 3379.3 Q2118 3382 2105.4 3382.4 Q2093 3382.5 2080.8 3381.2 Q2070 3378 2064.8 3372.6 Z" fill="#EE1C24"/>
<path d="M2066 3365.2 Q2080 3365.5 2094 3367 Q2088 3371.5 2078 3371.5 Q2070 3370.5 2066 3368 Z" fill="#8E1A22"/>
<path d="M2058 3373.8 Q2070 3376.5 2093.1 3381.2 Q2112 3380.5 2131.3 3381.8 L2131.3 3387.3 Q2120 3389.5 2111.6 3391 Q2090 3392.5 2068.5 3390.4 Q2062 3390 2057.4 3389.2 Z" fill="#0B6E3A"/>
<path d="M2065.4 3391 Q2090 3394 2117.7 3392.3 Q2130 3390 2140.5 3387.3 L2139.9 3398.4 Q2134 3402 2127 3404.6 Q2115 3405.5 2105.4 3405.2 Q2090 3405 2080.8 3404 Q2071 3400 2067.2 3397.2 Z" fill="#EE1C24"/>
<path d="M2067 3392 Q2080 3393.5 2096 3394.5 Q2090 3398 2080 3397.6 Q2071 3396 2067 3394 Z" fill="#8E1A22"/>
<path d="M2059.2 3398.4 Q2070 3404 2080 3405.5 Q2090 3407.5 2099.3 3407.7 Q2112 3405 2125.1 3403.3 L2123.9 3410.7 Q2110 3414.5 2099.3 3415.7 Q2085 3416 2074.6 3415 Q2067 3411.5 2065.4 3407.7 Z" fill="#0B6E3A"/>
<path d="M2079.6 3412 Q2092 3415 2103 3414.5 Q2120 3412 2134.4 3409.5 Q2130 3414 2123.9 3416.9 Q2118 3422 2111.6 3424.9 Q2105 3426 2099.3 3425.5 Q2092 3424 2087 3421.8 Z" fill="#EE1C24"/>
<path d="M2080 3412.5 Q2092 3415.2 2101 3415.6 Q2096 3419 2088 3418.5 Z" fill="#8E1A22"/>
<text x="2161.67" y="3404.20" font-size="78.49" font-weight="bold" fill="#3A3A3A" textLength="153.30" lengthAdjust="spacingAndGlyphs" font-family='"Liberation Sans", sans-serif' >DGS</text>
<rect x="2324.20" y="3349.20" width="48.30" height="0.70" fill="#CCCCCC" />
<text x="2325.68" y="3371.60" font-size="14.52" font-weight="normal" fill="#444444" textLength="46.47" lengthAdjust="spacingAndGlyphs" font-family='"Liberation Sans", sans-serif' >desde</text>
<text x="2325.91" y="3394.70" font-size="20.34" font-weight="normal" fill="#444444" textLength="46.48" lengthAdjust="spacingAndGlyphs" font-family='"Liberation Sans", sans-serif' >1899</text>
<rect x="2324.20" y="3402.80" width="48.30" height="2.00" fill="#555555" />
<text x="2164.31" y="3431.50" font-size="18.90" font-weight="normal" fill="#444444" textLength="209.05" lengthAdjust="spacingAndGlyphs" font-family='"Liberation Sans", sans-serif' >Direção-Geral da Saúde</text>
</svg>
</body></html>
